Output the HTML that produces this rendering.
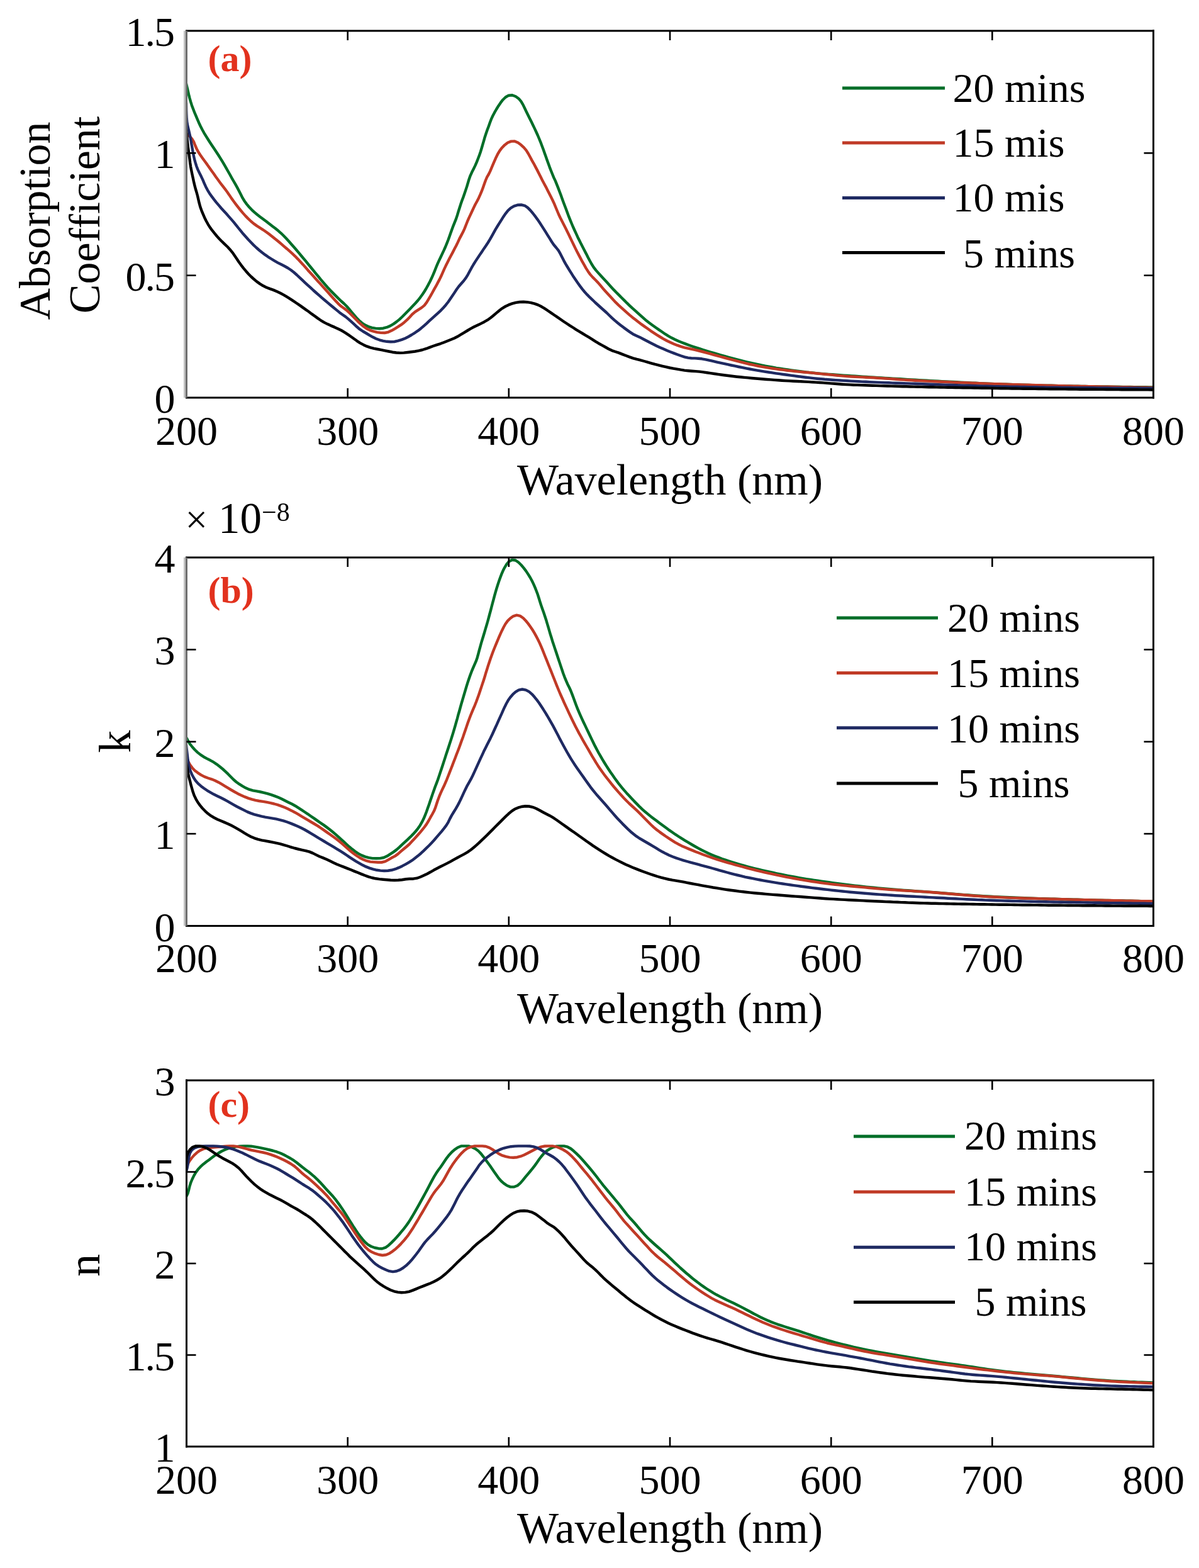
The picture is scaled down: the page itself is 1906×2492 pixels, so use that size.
<!DOCTYPE html>
<html><head><meta charset="utf-8"><title>Optical constants</title>
<style>html,body{margin:0;padding:0;background:#fff}svg{display:block}</style></head>
<body><svg xmlns="http://www.w3.org/2000/svg" width="1906" height="2492" viewBox="0 0 1906 2492">
<rect width="1906" height="2492" fill="#fff"/>
<clipPath id="ca"><rect x="296.5" y="49.0" width="1537.0" height="583.0"/></clipPath>
<g clip-path="url(#ca)" fill="none" stroke-width="4.4" stroke-linejoin="round" stroke-linecap="round">
<path d="M296.0,132.6 L297.3,138.5 L298.7,144.3 L300.0,150.1 L301.5,156.0 L303.1,161.7 L304.9,167.4 L307.0,173.1 L309.2,178.7 L311.5,184.2 L313.8,189.7 L316.2,195.2 L318.8,200.7 L321.5,206.0 L324.4,211.3 L327.5,216.4 L330.7,221.5 L333.9,226.5 L337.2,231.5 L340.6,236.5 L343.9,241.5 L347.2,246.5 L350.4,251.6 L353.5,256.7 L356.6,261.9 L359.6,267.1 L362.5,272.3 L365.5,277.5 L368.4,282.8 L371.4,288.0 L374.4,293.2 L377.3,298.4 L380.1,303.7 L382.8,309.1 L385.5,314.4 L388.6,319.5 L392.1,324.4 L396.0,329.0 L400.1,333.3 L404.5,337.4 L409.1,341.3 L413.9,344.9 L418.7,348.5 L423.4,352.1 L428.2,355.8 L433.0,359.4 L437.7,363.0 L442.4,366.8 L446.9,370.8 L451.2,375.0 L455.3,379.3 L459.4,383.8 L463.3,388.3 L467.3,392.8 L471.2,397.3 L475.1,401.9 L478.9,406.5 L482.8,411.1 L486.6,415.7 L490.4,420.4 L494.2,425.0 L498.0,429.6 L501.8,434.3 L505.6,438.9 L509.4,443.6 L513.3,448.2 L517.2,452.7 L521.2,457.2 L525.3,461.6 L529.5,465.9 L533.7,470.1 L538.0,474.4 L542.3,478.5 L546.8,482.5 L551.1,486.7 L555.0,491.2 L558.8,495.8 L562.7,500.4 L566.6,504.9 L570.8,509.3 L575.3,513.2 L580.2,516.5 L585.6,519.1 L591.3,520.8 L597.2,521.9 L603.2,522.3 L609.1,521.7 L614.9,520.2 L620.4,517.9 L625.5,514.9 L630.4,511.4 L635.0,507.6 L639.4,503.5 L643.6,499.3 L647.8,495.0 L652.0,490.7 L656.2,486.3 L660.3,482.0 L664.3,477.5 L668.0,472.8 L671.5,468.0 L674.8,463.0 L677.9,457.8 L680.8,452.6 L683.6,447.2 L686.2,441.8 L688.6,436.4 L690.9,430.8 L693.1,425.2 L695.4,419.7 L697.9,414.2 L700.5,408.8 L703.0,403.4 L705.6,397.9 L708.0,392.5 L710.3,386.9 L712.5,381.3 L714.5,375.7 L716.5,370.0 L718.5,364.4 L720.6,358.8 L722.9,353.2 L725.1,347.6 L727.0,341.9 L728.7,336.2 L730.5,330.5 L732.3,324.8 L734.3,319.1 L736.4,313.5 L738.4,307.8 L740.3,302.1 L742.2,296.4 L743.9,290.7 L745.6,284.9 L747.6,279.3 L750.1,273.8 L752.8,268.4 L755.4,263.1 L757.8,257.6 L760.0,252.0 L762.1,246.4 L764.1,240.7 L765.8,235.0 L767.5,229.2 L769.2,223.4 L770.8,217.7 L772.7,212.0 L774.7,206.3 L776.8,200.7 L778.8,195.0 L780.9,189.4 L783.4,184.0 L786.2,178.7 L789.2,173.5 L792.3,168.4 L795.7,163.4 L799.3,158.7 L803.6,154.5 L808.6,151.7 L814.3,151.3 L819.7,153.3 L824.5,156.7 L828.3,161.2 L831.4,166.4 L834.0,171.8 L836.6,177.2 L839.2,182.5 L841.9,187.9 L844.6,193.3 L847.2,198.7 L849.8,204.1 L852.3,209.5 L854.8,215.0 L857.1,220.5 L859.4,226.1 L861.5,231.7 L863.6,237.3 L865.6,243.0 L867.6,248.6 L869.6,254.3 L871.7,259.9 L873.7,265.6 L875.9,271.2 L878.1,276.7 L880.4,282.3 L882.9,287.7 L885.2,293.3 L887.4,298.9 L889.5,304.5 L891.6,310.1 L893.6,315.7 L895.7,321.4 L897.8,327.0 L899.9,332.6 L902.0,338.2 L904.1,343.9 L906.3,349.4 L908.6,355.0 L910.9,360.5 L913.4,366.0 L915.9,371.4 L918.4,376.9 L921.1,382.3 L923.7,387.6 L926.5,393.0 L929.2,398.3 L932.0,403.6 L934.7,409.0 L937.5,414.3 L940.4,419.5 L943.6,424.6 L947.2,429.4 L951.2,433.9 L955.2,438.3 L959.3,442.7 L963.3,447.1 L967.4,451.6 L971.4,456.0 L975.5,460.4 L979.7,464.7 L983.9,468.9 L988.2,473.2 L992.4,477.4 L996.7,481.7 L1001.0,485.8 L1005.4,489.9 L1009.9,493.9 L1014.3,497.9 L1018.8,501.9 L1023.3,505.9 L1027.8,509.8 L1032.6,513.5 L1037.4,517.0 L1042.3,520.5 L1047.2,523.9 L1052.2,527.3 L1057.1,530.7 L1062.2,533.9 L1067.4,536.8 L1072.8,539.5 L1078.2,542.0 L1083.8,544.2 L1089.4,546.4 L1095.0,548.5 L1100.6,550.5 L1106.3,552.4 L1112.0,554.2 L1117.8,556.0 L1123.5,557.8 L1129.2,559.5 L1135.0,561.2 L1140.7,562.9 L1146.5,564.6 L1152.3,566.2 L1158.1,567.8 L1163.9,569.4 L1169.7,570.9 L1175.5,572.4 L1181.3,573.9 L1187.1,575.3 L1193.0,576.7 L1198.8,578.0 L1204.7,579.2 L1210.6,580.5 L1216.4,581.6 L1222.3,582.7 L1228.2,583.7 L1234.2,584.8 L1240.1,585.7 L1246.0,586.6 L1251.9,587.5 L1257.9,588.4 L1263.8,589.2 L1269.8,590.0 L1275.7,590.7 L1281.7,591.5 L1287.6,592.1 L1293.6,592.8 L1299.6,593.4 L1305.6,593.9 L1311.5,594.4 L1317.5,594.9 L1323.5,595.3 L1329.5,595.8 L1335.5,596.2 L1341.4,596.6 L1347.4,597.0 L1353.4,597.4 L1359.4,597.8 L1365.4,598.2 L1371.4,598.6 L1377.4,599.0 L1383.4,599.4 L1389.3,599.8 L1395.3,600.1 L1401.3,600.5 L1407.3,600.9 L1413.3,601.3 L1419.3,601.6 L1425.3,602.0 L1431.3,602.3 L1437.3,602.7 L1443.2,603.1 L1449.2,603.4 L1455.2,603.7 L1461.2,604.1 L1467.2,604.4 L1473.2,604.7 L1479.2,605.1 L1485.2,605.4 L1491.2,605.7 L1497.2,606.1 L1503.2,606.4 L1509.1,606.7 L1515.1,607.0 L1521.1,607.3 L1527.1,607.7 L1533.1,608.0 L1539.1,608.3 L1545.1,608.6 L1551.1,608.8 L1557.1,609.1 L1563.1,609.4 L1569.1,609.7 L1575.1,609.9 L1581.1,610.1 L1587.1,610.4 L1593.1,610.6 L1599.1,610.8 L1605.0,611.0 L1611.0,611.2 L1617.0,611.4 L1623.0,611.6 L1629.0,611.7 L1635.0,611.9 L1641.0,612.1 L1647.0,612.2 L1653.0,612.4 L1659.0,612.6 L1665.0,612.7 L1671.0,612.8 L1677.0,613.0 L1683.0,613.1 L1689.0,613.3 L1695.0,613.4 L1701.0,613.5 L1707.0,613.6 L1713.0,613.7 L1719.0,613.9 L1725.0,614.0 L1731.0,614.1 L1737.0,614.2 L1743.0,614.3 L1749.0,614.4 L1755.0,614.4 L1761.0,614.5 L1767.0,614.6 L1773.0,614.7 L1779.0,614.8 L1785.0,614.9 L1791.0,614.9 L1797.0,615.0 L1803.0,615.1 L1809.0,615.2 L1815.0,615.3 L1821.0,615.3 L1827.0,615.4 L1833.0,615.5" stroke="#006e28"/>
<path d="M296.5,212.0 L300.9,216.1 L305.0,220.4 L308.0,225.4 L310.2,231.0 L312.6,236.5 L315.4,241.8 L318.7,246.8 L322.2,251.7 L325.7,256.5 L329.3,261.4 L332.7,266.3 L336.2,271.2 L339.7,276.0 L343.1,281.0 L346.6,285.8 L350.2,290.7 L353.8,295.4 L357.5,300.2 L361.1,305.0 L364.5,309.9 L367.8,314.9 L371.3,319.8 L374.9,324.6 L378.6,329.4 L382.3,334.0 L386.2,338.6 L390.2,343.1 L394.4,347.4 L398.7,351.5 L403.3,355.4 L408.2,358.9 L413.3,362.1 L418.3,365.3 L423.3,368.7 L428.1,372.3 L432.8,376.0 L437.5,379.7 L442.2,383.5 L446.8,387.4 L451.3,391.3 L455.9,395.2 L460.4,399.2 L464.8,403.2 L469.2,407.3 L473.4,411.6 L477.5,416.0 L481.6,420.4 L485.6,424.9 L489.5,429.4 L493.5,433.8 L497.6,438.3 L501.6,442.7 L505.6,447.2 L509.7,451.6 L513.7,456.1 L517.7,460.5 L521.8,465.0 L525.7,469.5 L529.7,473.9 L533.8,478.4 L537.9,482.8 L542.3,486.8 L547.2,490.2 L551.9,493.8 L556.3,498.0 L560.5,502.2 L564.7,506.5 L568.9,510.8 L573.3,514.9 L577.9,518.8 L582.8,522.2 L588.1,524.8 L593.8,526.7 L599.6,528.1 L605.6,528.9 L611.5,529.0 L617.3,527.8 L622.7,525.3 L627.9,522.3 L633.0,519.2 L638.0,515.9 L642.8,512.2 L647.2,508.2 L651.3,503.9 L655.3,499.5 L659.9,495.6 L664.9,492.3 L670.0,489.1 L674.6,485.4 L678.2,480.7 L681.2,475.6 L684.3,470.4 L687.2,465.2 L690.1,459.9 L693.1,454.7 L695.9,449.4 L698.7,444.1 L701.3,438.7 L703.8,433.2 L706.2,427.7 L708.7,422.3 L711.4,416.9 L714.1,411.6 L716.9,406.3 L719.8,400.9 L722.5,395.6 L725.3,390.3 L727.9,384.9 L730.4,379.4 L733.2,374.1 L736.0,368.8 L738.5,363.4 L740.7,357.8 L742.9,352.2 L745.3,346.7 L747.8,341.3 L750.4,335.8 L752.9,330.4 L755.5,325.0 L758.4,319.7 L761.1,314.4 L763.6,308.9 L765.9,303.4 L768.0,297.7 L770.0,292.1 L772.0,286.5 L774.2,281.3 L776.8,277.0 L779.3,271.9 L781.6,266.4 L783.9,260.9 L786.3,255.4 L788.7,249.9 L791.4,244.5 L794.5,239.4 L798.1,234.7 L802.3,230.4 L807.1,226.8 L812.5,224.6 L818.2,224.5 L823.5,226.8 L828.3,230.3 L832.7,234.4 L836.5,238.9 L839.7,244.0 L842.6,249.3 L845.4,254.6 L848.4,259.8 L851.2,265.1 L854.0,270.4 L856.7,275.7 L859.4,281.1 L862.1,286.5 L864.9,291.8 L867.8,297.1 L870.5,302.4 L873.2,307.8 L875.9,313.1 L878.6,318.5 L881.1,323.9 L883.4,329.5 L885.7,335.0 L888.0,340.5 L890.6,346.0 L893.3,351.3 L896.1,356.7 L898.8,362.0 L901.5,367.4 L904.1,372.8 L906.7,378.2 L909.3,383.6 L911.9,389.0 L914.5,394.4 L917.2,399.8 L920.0,405.1 L922.8,410.4 L925.6,415.7 L928.6,420.9 L931.5,426.1 L934.7,431.2 L938.2,436.1 L942.2,440.6 L946.4,444.8 L950.6,449.1 L954.5,453.7 L958.4,458.3 L962.3,462.7 L966.4,467.2 L970.4,471.6 L974.5,476.1 L978.6,480.4 L982.9,484.6 L987.3,488.6 L991.8,492.6 L996.3,496.7 L1000.8,500.6 L1005.4,504.4 L1010.1,508.1 L1014.9,511.8 L1019.7,515.4 L1024.6,518.9 L1029.5,522.3 L1034.4,525.8 L1039.4,529.1 L1044.4,532.4 L1049.5,535.5 L1054.7,538.6 L1060.0,541.5 L1065.3,544.1 L1070.8,546.5 L1076.4,548.7 L1082.1,550.6 L1087.8,552.3 L1093.6,553.6 L1099.5,554.9 L1105.4,556.1 L1111.2,557.5 L1117.0,559.0 L1122.8,560.6 L1128.6,562.2 L1134.4,563.8 L1140.2,565.4 L1145.9,567.0 L1151.7,568.5 L1157.5,570.1 L1163.3,571.6 L1169.1,573.2 L1174.9,574.7 L1180.8,576.2 L1186.6,577.6 L1192.4,579.0 L1198.3,580.2 L1204.2,581.5 L1210.1,582.6 L1216.0,583.6 L1221.9,584.6 L1227.8,585.5 L1233.8,586.4 L1239.7,587.2 L1245.7,587.9 L1251.6,588.7 L1257.6,589.3 L1263.6,590.0 L1269.5,590.6 L1275.5,591.2 L1281.5,591.7 L1287.5,592.3 L1293.4,592.9 L1299.4,593.5 L1305.4,594.1 L1311.3,594.7 L1317.3,595.3 L1323.3,595.9 L1329.3,596.5 L1335.2,597.1 L1341.2,597.6 L1347.2,598.1 L1353.2,598.5 L1359.2,598.8 L1365.2,599.1 L1371.2,599.4 L1377.2,599.7 L1383.2,600.0 L1389.1,600.3 L1395.1,600.7 L1401.1,601.1 L1407.1,601.5 L1413.1,601.9 L1419.1,602.3 L1425.1,602.8 L1431.1,603.2 L1437.1,603.6 L1443.0,604.0 L1449.0,604.3 L1455.0,604.7 L1461.0,605.0 L1467.0,605.3 L1473.0,605.6 L1479.0,605.9 L1485.0,606.2 L1491.0,606.5 L1497.0,606.8 L1503.0,607.0 L1509.0,607.3 L1515.0,607.6 L1521.0,607.8 L1527.0,608.1 L1533.0,608.3 L1539.0,608.5 L1545.0,608.8 L1551.0,609.0 L1557.0,609.3 L1563.0,609.5 L1569.0,609.7 L1575.0,609.9 L1581.0,610.1 L1587.0,610.3 L1593.0,610.5 L1599.0,610.7 L1605.0,610.9 L1611.0,611.1 L1617.0,611.3 L1623.0,611.5 L1629.0,611.7 L1635.0,611.8 L1641.0,612.0 L1647.0,612.2 L1653.0,612.3 L1659.0,612.5 L1665.0,612.6 L1671.0,612.8 L1677.0,612.9 L1683.0,613.1 L1689.0,613.2 L1695.0,613.4 L1701.0,613.5 L1707.0,613.6 L1713.0,613.8 L1719.0,613.9 L1725.0,614.0 L1731.0,614.2 L1737.0,614.3 L1743.0,614.4 L1749.0,614.5 L1755.0,614.6 L1761.0,614.7 L1767.0,614.8 L1773.0,614.9 L1779.0,615.1 L1785.0,615.2 L1791.0,615.3 L1797.0,615.4 L1803.0,615.5 L1809.0,615.6 L1815.0,615.7 L1821.0,615.8 L1827.0,615.9 L1833.0,616.0" stroke="#c03a26"/>
<path d="M296.0,163.6 L296.1,169.6 L296.2,175.6 L296.4,181.6 L296.7,187.6 L297.2,193.6 L298.2,199.5 L299.6,205.3 L301.0,211.2 L302.3,217.0 L303.4,222.9 L304.4,228.9 L305.5,234.8 L306.5,240.7 L307.7,246.6 L308.9,252.4 L310.5,258.2 L312.3,264.0 L314.5,269.6 L317.1,275.0 L319.8,280.3 L322.3,285.7 L324.7,291.3 L327.1,296.7 L329.9,302.1 L333.0,307.2 L336.5,312.1 L340.1,316.9 L343.8,321.6 L347.7,326.2 L351.6,330.7 L355.7,335.2 L359.7,339.6 L363.7,344.1 L367.7,348.6 L371.6,353.1 L375.4,357.8 L379.1,362.5 L382.9,367.2 L386.7,371.8 L390.7,376.3 L394.7,380.8 L398.8,385.1 L403.0,389.4 L407.4,393.5 L411.9,397.5 L416.6,401.3 L421.4,404.9 L426.3,408.3 L431.4,411.5 L436.5,414.7 L441.7,417.6 L447.1,420.3 L452.4,423.0 L457.7,426.0 L462.6,429.3 L467.4,433.0 L471.9,437.0 L476.3,441.1 L480.6,445.2 L485.0,449.3 L489.4,453.4 L493.9,457.4 L498.3,461.5 L502.8,465.5 L507.3,469.4 L511.8,473.4 L516.4,477.3 L521.0,481.1 L525.6,485.0 L530.2,488.8 L534.9,492.6 L539.5,496.4 L544.4,500.0 L549.3,503.4 L553.9,507.1 L558.4,511.2 L562.8,515.2 L567.2,519.3 L571.8,523.2 L576.8,526.5 L582.0,529.5 L587.1,532.6 L592.3,535.6 L597.7,538.2 L603.3,540.3 L609.1,541.8 L615.0,542.8 L621.0,543.3 L627.0,543.0 L632.8,541.7 L638.5,539.9 L644.1,537.7 L649.5,535.0 L654.6,532.0 L659.7,528.8 L664.7,525.4 L669.4,521.7 L673.9,517.8 L678.4,513.8 L682.8,509.7 L687.3,505.7 L691.7,501.7 L696.2,497.7 L700.6,493.6 L704.7,489.2 L708.7,484.7 L712.4,480.0 L715.8,475.1 L719.2,470.1 L722.5,465.1 L725.8,460.0 L729.3,455.2 L733.2,450.7 L737.2,446.2 L740.8,441.4 L743.9,436.3 L746.7,431.0 L749.6,425.7 L752.6,420.5 L755.8,415.4 L759.1,410.4 L762.4,405.4 L765.8,400.4 L769.1,395.4 L772.5,390.5 L775.8,385.5 L778.9,380.4 L781.9,375.1 L784.8,369.9 L787.7,364.6 L790.8,359.5 L794.0,354.4 L797.2,349.3 L800.4,344.2 L803.8,339.3 L807.5,334.6 L811.9,330.6 L817.0,327.6 L822.7,325.8 L828.6,325.5 L834.2,326.8 L839.0,330.1 L843.2,334.4 L847.1,339.0 L850.7,343.7 L854.3,348.6 L857.7,353.5 L861.0,358.6 L864.2,363.6 L867.4,368.7 L870.6,373.8 L873.8,378.9 L876.9,384.0 L880.3,389.0 L884.1,393.5 L887.8,398.2 L890.8,403.4 L893.5,408.8 L896.2,414.1 L899.1,419.4 L902.2,424.5 L905.3,429.6 L908.5,434.7 L911.7,439.8 L915.1,444.8 L918.5,449.7 L922.0,454.6 L925.6,459.4 L929.4,464.0 L933.5,468.4 L937.7,472.7 L942.1,476.8 L946.4,481.0 L950.9,485.0 L955.3,489.0 L959.8,493.0 L964.3,497.0 L968.6,501.2 L972.9,505.4 L977.4,509.4 L982.0,513.2 L986.7,516.9 L991.5,520.6 L996.3,524.1 L1001.2,527.6 L1006.2,530.9 L1011.5,533.5 L1017.0,535.9 L1022.3,538.7 L1027.6,541.5 L1032.9,544.3 L1038.3,547.0 L1043.7,549.7 L1049.1,552.2 L1054.6,554.6 L1060.1,557.0 L1065.7,559.2 L1071.3,561.4 L1076.9,563.5 L1082.6,565.5 L1088.2,567.3 L1093.7,568.6 L1099.1,569.2 L1104.5,569.4 L1110.0,569.7 L1115.7,570.3 L1121.5,571.3 L1127.3,572.6 L1133.1,573.9 L1139.0,575.3 L1144.8,576.6 L1150.7,577.9 L1156.6,579.2 L1162.4,580.5 L1168.3,581.7 L1174.2,583.0 L1180.1,584.2 L1186.0,585.3 L1191.9,586.5 L1197.8,587.6 L1203.7,588.6 L1209.6,589.6 L1215.5,590.6 L1221.5,591.5 L1227.4,592.4 L1233.3,593.3 L1239.3,594.1 L1245.2,595.0 L1251.2,595.8 L1257.1,596.6 L1263.1,597.4 L1269.0,598.2 L1275.0,599.0 L1280.9,599.7 L1286.9,600.4 L1292.9,601.1 L1298.9,601.7 L1304.8,602.2 L1310.8,602.8 L1316.8,603.2 L1322.8,603.7 L1328.8,604.1 L1334.8,604.5 L1340.8,604.9 L1346.8,605.2 L1352.8,605.6 L1358.7,605.9 L1364.7,606.3 L1370.7,606.6 L1376.7,606.8 L1382.7,607.1 L1388.7,607.4 L1394.7,607.6 L1400.7,607.9 L1406.7,608.1 L1412.7,608.3 L1418.7,608.6 L1424.7,608.8 L1430.7,609.0 L1436.7,609.2 L1442.7,609.4 L1448.7,609.6 L1454.8,609.8 L1460.8,610.0 L1466.8,610.2 L1472.8,610.5 L1478.8,610.7 L1484.8,610.9 L1490.8,611.1 L1496.8,611.4 L1502.8,611.6 L1508.8,611.8 L1514.8,612.0 L1520.8,612.2 L1526.8,612.4 L1532.8,612.6 L1538.8,612.8 L1544.8,613.0 L1550.8,613.2 L1556.8,613.4 L1562.8,613.6 L1568.8,613.8 L1574.8,613.9 L1580.8,614.1 L1586.8,614.2 L1592.8,614.4 L1598.8,614.5 L1604.8,614.6 L1610.8,614.7 L1616.8,614.8 L1622.8,614.9 L1628.8,615.0 L1634.8,615.1 L1640.8,615.2 L1646.8,615.3 L1652.8,615.4 L1658.8,615.5 L1664.9,615.6 L1670.9,615.6 L1676.9,615.7 L1682.9,615.8 L1688.9,615.9 L1694.9,615.9 L1700.9,616.0 L1706.9,616.1 L1712.9,616.1 L1718.9,616.2 L1724.9,616.2 L1730.9,616.3 L1736.9,616.3 L1742.9,616.4 L1748.9,616.4 L1754.9,616.5 L1760.9,616.5 L1766.9,616.6 L1772.9,616.6 L1779.0,616.7 L1785.0,616.7 L1791.0,616.7 L1797.0,616.8 L1803.0,616.8 L1809.0,616.8 L1815.0,616.9 L1821.0,616.9 L1827.0,617.0 L1833.0,617.0" stroke="#1f2a62"/>
<path d="M296.0,205.2 L296.6,211.2 L297.1,217.2 L297.7,223.1 L298.3,229.1 L299.1,235.1 L299.9,241.0 L300.7,246.9 L301.5,252.9 L302.2,258.8 L303.1,264.8 L304.2,270.7 L305.4,276.6 L306.7,282.4 L307.9,288.3 L309.3,294.2 L310.8,300.0 L312.5,305.7 L314.1,311.5 L315.4,317.3 L316.8,323.2 L318.4,329.0 L320.4,334.6 L322.7,340.2 L325.1,345.7 L327.7,351.0 L330.6,356.3 L333.8,361.4 L337.3,366.2 L341.1,370.9 L344.9,375.5 L349.0,380.0 L353.2,384.2 L357.5,388.3 L361.9,392.5 L365.9,396.9 L369.7,401.6 L373.1,406.5 L376.5,411.5 L379.8,416.5 L383.3,421.3 L387.0,426.1 L390.8,430.7 L394.8,435.2 L399.0,439.5 L403.4,443.5 L408.0,447.4 L412.9,450.9 L418.0,454.1 L423.3,456.7 L428.9,458.9 L434.6,460.9 L440.1,463.2 L445.5,465.7 L450.8,468.6 L455.9,471.7 L461.0,474.9 L466.0,478.2 L471.0,481.5 L476.0,484.9 L480.9,488.4 L485.8,491.9 L490.7,495.3 L495.5,498.9 L500.4,502.4 L505.2,505.9 L510.2,509.3 L515.3,512.4 L520.7,515.1 L526.1,517.6 L531.7,519.9 L537.2,522.4 L542.5,525.0 L547.7,528.1 L552.7,531.4 L557.6,534.8 L562.5,538.3 L567.4,541.8 L572.4,545.1 L577.7,547.9 L583.1,550.4 L588.8,552.3 L594.6,553.8 L600.5,555.0 L606.4,556.1 L612.3,557.3 L618.1,558.5 L624.0,559.7 L630.0,560.5 L636.0,560.9 L641.9,560.6 L647.9,560.0 L653.9,559.3 L659.8,558.5 L665.7,557.4 L671.5,556.0 L677.3,554.2 L682.9,552.1 L688.5,550.0 L694.2,548.1 L699.9,546.3 L705.5,544.2 L711.1,542.0 L716.7,539.8 L722.2,537.5 L727.5,534.8 L732.7,531.7 L737.8,528.6 L742.9,525.5 L748.1,522.4 L753.4,519.5 L758.8,516.9 L764.2,514.4 L769.6,511.7 L774.8,508.7 L779.7,505.2 L784.3,501.5 L788.9,497.6 L793.5,493.7 L798.3,490.1 L803.4,487.0 L808.8,484.4 L814.4,482.4 L820.2,480.9 L826.1,480.0 L832.1,479.8 L838.1,480.2 L844.0,481.1 L849.8,482.6 L855.4,484.6 L860.8,487.3 L865.9,490.4 L870.9,493.8 L875.9,497.1 L880.8,500.5 L885.8,503.9 L890.7,507.3 L895.7,510.7 L900.7,514.0 L905.7,517.3 L910.8,520.5 L915.8,523.8 L920.9,526.9 L926.1,530.0 L931.2,533.1 L936.4,536.2 L941.5,539.3 L946.5,542.6 L951.6,545.7 L956.9,548.6 L962.1,551.5 L967.3,554.5 L972.7,557.1 L978.3,559.0 L984.0,560.9 L989.6,563.1 L995.2,565.3 L1000.8,567.4 L1006.5,569.3 L1012.2,570.9 L1018.1,572.4 L1023.9,574.0 L1029.6,575.6 L1035.4,577.3 L1041.2,578.9 L1047.0,580.3 L1052.8,581.8 L1058.6,583.2 L1064.5,584.5 L1070.4,585.6 L1076.3,586.6 L1082.2,587.7 L1088.1,588.6 L1094.0,589.2 L1100.0,589.7 L1105.9,590.1 L1111.9,590.6 L1117.8,591.4 L1123.7,592.2 L1129.7,593.1 L1135.6,594.0 L1141.6,594.9 L1147.5,595.7 L1153.4,596.5 L1159.4,597.3 L1165.4,598.0 L1171.3,598.7 L1177.3,599.3 L1183.3,599.9 L1189.2,600.4 L1195.2,601.0 L1201.2,601.5 L1207.2,602.0 L1213.2,602.5 L1219.1,603.0 L1225.1,603.4 L1231.1,603.9 L1237.1,604.3 L1243.1,604.7 L1249.1,605.1 L1255.1,605.4 L1261.1,605.7 L1267.1,606.0 L1273.1,606.3 L1279.0,606.6 L1285.0,606.9 L1291.0,607.3 L1297.0,607.6 L1303.0,608.0 L1309.0,608.4 L1315.0,608.9 L1321.0,609.4 L1327.0,609.8 L1332.9,610.3 L1338.9,610.7 L1344.9,611.1 L1350.9,611.4 L1356.9,611.7 L1362.9,611.9 L1368.9,612.1 L1374.9,612.3 L1380.9,612.5 L1386.9,612.7 L1392.9,612.9 L1398.9,613.1 L1404.9,613.3 L1410.9,613.5 L1416.9,613.6 L1422.9,613.8 L1428.9,614.0 L1434.9,614.2 L1440.9,614.3 L1446.9,614.5 L1452.9,614.6 L1458.9,614.8 L1464.9,614.9 L1470.9,615.0 L1476.9,615.2 L1482.9,615.3 L1488.9,615.4 L1494.9,615.5 L1500.9,615.6 L1506.9,615.8 L1512.9,615.9 L1518.9,616.0 L1524.9,616.1 L1530.9,616.2 L1536.9,616.3 L1542.9,616.4 L1548.9,616.5 L1554.9,616.6 L1560.9,616.7 L1566.9,616.8 L1572.9,616.9 L1578.9,617.0 L1584.9,617.1 L1590.9,617.2 L1596.9,617.3 L1602.9,617.4 L1608.9,617.5 L1614.9,617.5 L1620.9,617.6 L1626.9,617.7 L1632.9,617.8 L1638.9,617.8 L1644.9,617.9 L1650.9,618.0 L1656.9,618.0 L1662.9,618.1 L1668.9,618.2 L1674.9,618.2 L1680.9,618.3 L1686.9,618.4 L1693.0,618.4 L1699.0,618.5 L1705.0,618.5 L1711.0,618.6 L1717.0,618.7 L1723.0,618.7 L1729.0,618.8 L1735.0,618.8 L1741.0,618.8 L1747.0,618.9 L1753.0,618.9 L1759.0,619.0 L1765.0,619.0 L1771.0,619.1 L1777.0,619.1 L1783.0,619.2 L1789.0,619.2 L1795.0,619.2 L1801.0,619.3 L1807.0,619.3 L1813.0,619.4 L1819.0,619.4 L1825.0,619.4 L1831.0,619.5 L1833.0,619.5" stroke="#000000"/>
</g>
<g fill="#000">
<rect x="295.0" y="47.5" width="1540.0" height="3"/>
<rect x="295.0" y="630.5" width="1540.0" height="3"/>
<rect x="1832.0" y="47.5" width="3" height="586.0"/>
</g>
<rect x="292" y="49.0" width="3" height="583.0" fill="#c0c0c0"/>
<rect x="295" y="49.0" width="3" height="583.0" fill="#6e6e6e"/>
<g stroke="#000" stroke-width="2.6">
<line x1="552.7" y1="632.0" x2="552.7" y2="617.0"/>
<line x1="552.7" y1="49.0" x2="552.7" y2="64.0"/>
<line x1="808.8" y1="632.0" x2="808.8" y2="617.0"/>
<line x1="808.8" y1="49.0" x2="808.8" y2="64.0"/>
<line x1="1065.0" y1="632.0" x2="1065.0" y2="617.0"/>
<line x1="1065.0" y1="49.0" x2="1065.0" y2="64.0"/>
<line x1="1321.2" y1="632.0" x2="1321.2" y2="617.0"/>
<line x1="1321.2" y1="49.0" x2="1321.2" y2="64.0"/>
<line x1="1577.3" y1="632.0" x2="1577.3" y2="617.0"/>
<line x1="1577.3" y1="49.0" x2="1577.3" y2="64.0"/>
<line x1="296.5" y1="243.3" x2="311.5" y2="243.3"/>
<line x1="1833.5" y1="243.3" x2="1818.5" y2="243.3"/>
<line x1="296.5" y1="437.7" x2="311.5" y2="437.7"/>
<line x1="1833.5" y1="437.7" x2="1818.5" y2="437.7"/>
</g>
<g style="font-family:'Liberation Serif','Times New Roman',serif;font-size:66px" fill="#000">
<text x="296.5" y="707.0" text-anchor="middle">200</text>
<text x="552.7" y="707.0" text-anchor="middle">300</text>
<text x="808.8" y="707.0" text-anchor="middle">400</text>
<text x="1065.0" y="707.0" text-anchor="middle">500</text>
<text x="1321.2" y="707.0" text-anchor="middle">600</text>
<text x="1577.3" y="707.0" text-anchor="middle">700</text>
<text x="1833.5" y="707.0" text-anchor="middle">800</text>
<text x="276.0" y="73.0" text-anchor="end" letter-spacing="-2">1.5</text>
<text x="278.5" y="267.3" text-anchor="end">1</text>
<text x="276.0" y="461.7" text-anchor="end" letter-spacing="-2">0.5</text>
<text x="278.5" y="656.0" text-anchor="end">0</text>
</g>
<text x="1065" y="786.0" text-anchor="middle" style="font-family:'Liberation Serif','Times New Roman',serif;font-size:70px">Wavelength (nm)</text>
<text transform="translate(79,351) rotate(-90)" text-anchor="middle" style="font-family:'Liberation Serif','Times New Roman',serif;font-size:70px">Absorption</text><text transform="translate(158,341.5) rotate(-90)" text-anchor="middle" style="font-family:'Liberation Serif','Times New Roman',serif;font-size:70px">Coefficient</text>
<text x="330.5" y="112.5" style="font-family:'Liberation Serif','Times New Roman',serif;font-size:60px;font-weight:bold" fill="#e2321e">(a)</text>
<line x1="1339.0" y1="140.0" x2="1502.0" y2="140.0" stroke="#006e28" stroke-width="5"/>
<text x="1514.5" y="161.7" style="font-family:'Liberation Serif','Times New Roman',serif;font-size:66px" xml:space="preserve">20 mins</text>
<line x1="1339.0" y1="227.0" x2="1502.0" y2="227.0" stroke="#c03a26" stroke-width="5"/>
<text x="1514.5" y="248.8" style="font-family:'Liberation Serif','Times New Roman',serif;font-size:66px" xml:space="preserve">15 mis</text>
<line x1="1339.0" y1="314.5" x2="1502.0" y2="314.5" stroke="#1f2a62" stroke-width="5"/>
<text x="1514.5" y="336.4" style="font-family:'Liberation Serif','Times New Roman',serif;font-size:66px" xml:space="preserve">10 mis</text>
<line x1="1339.0" y1="401.6" x2="1502.0" y2="401.6" stroke="#000000" stroke-width="5"/>
<text x="1514.5" y="425.4" style="font-family:'Liberation Serif','Times New Roman',serif;font-size:66px" xml:space="preserve"> 5 mins</text>
<text x="294.5" y="847" style="font-family:'Liberation Serif','Times New Roman',serif;font-size:63px">×</text><text x="347" y="847" style="font-family:'Liberation Serif','Times New Roman',serif;font-size:69px">10</text><text x="416" y="828" style="font-family:'Liberation Serif','Times New Roman',serif;font-size:42px">−8</text>
<clipPath id="cb"><rect x="296.5" y="886.0" width="1537.0" height="585.5"/></clipPath>
<g clip-path="url(#cb)" fill="none" stroke-width="4.4" stroke-linejoin="round" stroke-linecap="round">
<path d="M296.0,1171.9 L298.8,1177.2 L301.9,1182.3 L305.6,1187.0 L309.6,1191.5 L313.9,1195.6 L318.6,1199.4 L323.6,1202.7 L328.9,1205.6 L334.2,1208.3 L339.4,1211.2 L344.4,1214.6 L349.2,1218.2 L353.8,1222.0 L358.3,1226.1 L362.6,1230.2 L366.8,1234.5 L371.0,1238.8 L375.6,1242.7 L380.4,1246.2 L385.5,1249.4 L390.7,1252.3 L396.2,1254.7 L402.0,1256.3 L407.9,1257.4 L413.8,1258.5 L419.6,1259.8 L425.5,1261.3 L431.2,1263.1 L436.8,1265.1 L442.4,1267.3 L447.9,1269.8 L453.2,1272.5 L458.6,1275.2 L464.0,1277.8 L469.3,1280.7 L474.3,1283.9 L479.3,1287.2 L484.4,1290.5 L489.4,1293.8 L494.3,1297.2 L499.3,1300.6 L504.2,1304.1 L509.1,1307.5 L514.1,1310.9 L518.9,1314.4 L523.7,1318.0 L528.4,1321.8 L533.0,1325.6 L537.5,1329.6 L541.9,1333.7 L546.4,1337.7 L550.8,1341.8 L555.2,1345.8 L559.9,1349.6 L564.6,1353.2 L569.6,1356.6 L574.9,1359.4 L580.5,1361.6 L586.2,1363.2 L592.1,1364.1 L598.1,1364.3 L604.1,1364.1 L610.0,1363.0 L615.4,1360.6 L620.4,1357.4 L625.4,1354.1 L630.2,1350.6 L634.7,1346.6 L639.1,1342.4 L643.5,1338.4 L647.9,1334.4 L652.3,1330.2 L656.5,1325.9 L660.5,1321.5 L664.3,1316.8 L667.7,1311.9 L670.7,1306.7 L673.4,1301.3 L675.7,1295.8 L677.9,1290.2 L679.9,1284.6 L681.9,1278.9 L683.8,1273.2 L685.8,1267.5 L687.7,1261.9 L689.7,1256.2 L691.7,1250.5 L693.9,1244.9 L696.0,1239.3 L697.9,1233.6 L699.8,1227.9 L701.7,1222.2 L703.6,1216.5 L705.4,1210.8 L707.3,1205.1 L709.1,1199.4 L711.0,1193.7 L712.9,1188.0 L714.7,1182.3 L716.6,1176.6 L718.4,1170.8 L720.2,1165.1 L721.9,1159.4 L723.6,1153.6 L725.2,1147.8 L726.9,1142.0 L728.4,1136.2 L730.1,1130.5 L731.7,1124.7 L733.3,1118.9 L735.0,1113.1 L736.7,1107.4 L738.4,1101.6 L740.1,1095.9 L741.8,1090.1 L743.6,1084.4 L745.5,1078.7 L747.5,1073.0 L749.6,1067.4 L751.9,1061.8 L754.3,1056.3 L756.7,1050.9 L758.7,1045.2 L760.3,1039.4 L761.8,1033.6 L763.4,1027.8 L765.0,1022.0 L766.7,1016.3 L768.5,1010.5 L770.2,1004.8 L771.9,999.0 L773.6,993.3 L775.3,987.5 L776.9,981.7 L778.4,975.9 L780.0,970.1 L781.5,964.3 L783.0,958.5 L784.6,952.7 L786.1,946.9 L787.7,941.1 L789.4,935.4 L791.2,929.6 L793.1,923.9 L795.1,918.3 L797.2,912.7 L799.6,907.1 L802.3,901.8 L805.4,896.7 L809.3,892.3 L814.2,889.7 L819.5,890.5 L824.3,893.8 L828.6,898.0 L832.5,902.6 L836.1,907.4 L839.4,912.4 L842.6,917.5 L845.5,922.7 L848.1,928.1 L850.5,933.6 L852.7,939.2 L854.8,944.8 L856.6,950.5 L858.4,956.3 L860.2,962.0 L862.2,967.7 L864.2,973.3 L866.1,979.0 L868.0,984.7 L869.7,990.5 L871.4,996.2 L873.1,1002.0 L874.8,1007.8 L876.6,1013.5 L878.3,1019.2 L880.2,1024.9 L882.1,1030.6 L884.0,1036.3 L885.9,1042.0 L887.8,1047.7 L889.7,1053.4 L891.6,1059.1 L893.5,1064.8 L895.4,1070.5 L897.5,1076.1 L899.8,1081.7 L902.2,1087.2 L904.9,1092.5 L907.4,1098.0 L909.6,1103.6 L911.7,1109.2 L913.7,1114.8 L915.8,1120.5 L918.0,1126.1 L920.3,1131.6 L922.7,1137.1 L925.2,1142.6 L927.7,1148.0 L930.3,1153.4 L932.9,1158.9 L935.5,1164.3 L938.1,1169.7 L940.7,1175.1 L943.3,1180.5 L946.0,1185.9 L948.8,1191.2 L951.6,1196.5 L954.6,1201.7 L957.6,1206.9 L960.7,1212.0 L963.9,1217.1 L967.2,1222.2 L970.5,1227.2 L973.9,1232.1 L977.3,1237.0 L980.9,1241.9 L984.5,1246.7 L988.3,1251.3 L992.1,1255.9 L996.1,1260.4 L1000.2,1264.8 L1004.3,1269.2 L1008.4,1273.6 L1012.6,1277.9 L1016.8,1282.2 L1021.2,1286.3 L1025.7,1290.3 L1030.3,1294.1 L1035.0,1297.9 L1039.7,1301.5 L1044.5,1305.1 L1049.3,1308.7 L1054.2,1312.3 L1059.0,1315.8 L1063.9,1319.4 L1068.8,1322.8 L1073.7,1326.2 L1078.8,1329.5 L1083.8,1332.7 L1088.9,1335.8 L1094.1,1338.9 L1099.3,1342.0 L1104.5,1345.0 L1109.7,1347.9 L1115.0,1350.7 L1120.4,1353.4 L1125.8,1356.0 L1131.3,1358.4 L1136.8,1360.7 L1142.4,1362.9 L1148.0,1365.0 L1153.7,1366.9 L1159.4,1368.8 L1165.1,1370.6 L1170.9,1372.4 L1176.6,1374.1 L1182.4,1375.7 L1188.2,1377.3 L1194.0,1378.8 L1199.8,1380.3 L1205.6,1381.7 L1211.5,1383.1 L1217.3,1384.4 L1223.2,1385.7 L1229.1,1387.0 L1234.9,1388.3 L1240.8,1389.5 L1246.7,1390.7 L1252.6,1391.8 L1258.5,1392.9 L1264.4,1394.0 L1270.3,1395.1 L1276.2,1396.1 L1282.2,1397.1 L1288.1,1398.0 L1294.0,1398.9 L1300.0,1399.8 L1305.9,1400.7 L1311.8,1401.5 L1317.8,1402.3 L1323.7,1403.1 L1329.7,1403.9 L1335.6,1404.7 L1341.6,1405.4 L1347.6,1406.2 L1353.5,1406.9 L1359.5,1407.6 L1365.5,1408.2 L1371.4,1408.9 L1377.4,1409.6 L1383.4,1410.2 L1389.3,1410.8 L1395.3,1411.4 L1401.3,1412.0 L1407.3,1412.5 L1413.2,1413.0 L1419.2,1413.5 L1425.2,1414.0 L1431.2,1414.5 L1437.2,1414.9 L1443.2,1415.3 L1449.2,1415.7 L1455.2,1416.2 L1461.2,1416.6 L1467.1,1417.0 L1473.1,1417.4 L1479.1,1417.9 L1485.1,1418.3 L1491.1,1418.8 L1497.1,1419.2 L1503.1,1419.7 L1509.1,1420.2 L1515.0,1420.7 L1521.0,1421.1 L1527.0,1421.6 L1533.0,1422.1 L1539.0,1422.5 L1545.0,1422.9 L1551.0,1423.4 L1557.0,1423.8 L1562.9,1424.1 L1568.9,1424.5 L1574.9,1424.8 L1580.9,1425.2 L1586.9,1425.5 L1592.9,1425.8 L1598.9,1426.0 L1604.9,1426.3 L1610.9,1426.5 L1616.9,1426.8 L1622.9,1427.0 L1628.9,1427.2 L1634.9,1427.4 L1640.9,1427.7 L1646.9,1427.9 L1652.9,1428.1 L1658.9,1428.3 L1664.9,1428.4 L1670.9,1428.6 L1676.9,1428.8 L1682.9,1429.0 L1688.9,1429.2 L1694.9,1429.3 L1700.9,1429.5 L1706.9,1429.7 L1712.9,1429.8 L1718.9,1430.0 L1724.9,1430.2 L1730.9,1430.3 L1737.0,1430.4 L1743.0,1430.6 L1749.0,1430.7 L1755.0,1430.9 L1761.0,1431.0 L1767.0,1431.1 L1773.0,1431.3 L1779.0,1431.4 L1785.0,1431.5 L1791.0,1431.6 L1797.0,1431.8 L1803.0,1431.9 L1809.0,1432.0 L1815.0,1432.1 L1821.0,1432.2 L1827.0,1432.4 L1833.0,1432.5" stroke="#006e28"/>
<path d="M296.5,1205.0 L299.2,1210.4 L302.1,1215.6 L305.7,1220.4 L309.8,1224.7 L314.6,1228.3 L319.6,1231.6 L324.9,1234.4 L330.5,1236.5 L336.2,1238.3 L341.7,1240.5 L347.1,1243.2 L352.3,1246.2 L357.5,1249.3 L362.6,1252.4 L367.7,1255.5 L372.9,1258.5 L378.2,1261.4 L383.6,1264.0 L389.1,1266.4 L394.7,1268.6 L400.4,1270.4 L406.2,1271.9 L412.1,1273.0 L418.1,1273.9 L424.0,1274.9 L429.9,1276.1 L435.7,1277.5 L441.5,1279.2 L447.1,1281.1 L452.7,1283.3 L458.2,1285.8 L463.6,1288.4 L468.9,1291.2 L474.1,1294.2 L479.3,1297.3 L484.4,1300.3 L489.6,1303.4 L494.8,1306.5 L499.9,1309.5 L505.1,1312.6 L510.1,1316.0 L515.0,1319.4 L519.9,1322.9 L524.8,1326.3 L529.7,1329.8 L534.5,1333.3 L539.3,1337.0 L543.9,1340.8 L548.4,1344.8 L552.9,1348.8 L557.4,1352.8 L562.1,1356.5 L567.0,1360.0 L572.0,1363.2 L577.4,1366.0 L582.9,1368.2 L588.7,1369.6 L594.7,1370.1 L600.7,1370.5 L606.6,1370.5 L612.3,1369.2 L617.4,1366.3 L622.6,1363.3 L627.9,1360.6 L632.7,1357.1 L637.2,1353.2 L641.8,1349.3 L646.4,1345.5 L650.9,1341.5 L655.0,1337.1 L659.1,1332.7 L663.1,1328.3 L667.1,1323.8 L671.0,1319.2 L674.7,1314.5 L678.2,1309.6 L681.3,1304.5 L684.2,1299.2 L687.2,1294.0 L690.0,1288.8 L692.3,1283.2 L694.1,1277.5 L696.0,1271.8 L698.1,1266.2 L700.4,1260.7 L702.9,1255.2 L705.5,1249.8 L707.9,1244.3 L710.3,1238.8 L712.5,1233.2 L714.7,1227.6 L716.9,1222.0 L719.1,1216.4 L721.2,1210.8 L723.4,1205.2 L725.5,1199.6 L727.7,1194.0 L729.8,1188.4 L731.9,1182.7 L733.9,1177.1 L736.0,1171.4 L737.9,1165.8 L739.9,1160.1 L741.8,1154.4 L743.7,1148.7 L745.8,1143.1 L747.9,1137.5 L750.2,1131.9 L752.5,1126.4 L754.9,1120.8 L757.1,1115.3 L759.2,1109.6 L761.2,1104.0 L763.1,1098.3 L765.0,1092.6 L766.9,1086.9 L768.8,1081.2 L770.6,1075.5 L772.3,1069.7 L774.1,1064.0 L775.9,1058.2 L777.8,1052.5 L779.7,1046.8 L781.7,1041.2 L783.8,1035.6 L786.0,1030.0 L788.3,1024.4 L790.6,1018.9 L792.9,1013.3 L795.3,1007.8 L797.8,1002.4 L800.5,997.0 L803.4,991.8 L806.9,986.9 L811.1,982.7 L815.9,979.3 L821.3,977.7 L826.8,978.9 L831.7,982.2 L835.8,986.5 L839.6,991.1 L843.1,996.0 L846.5,1001.0 L849.6,1006.1 L852.5,1011.4 L855.3,1016.7 L857.9,1022.1 L860.3,1027.6 L862.6,1033.1 L864.8,1038.7 L867.0,1044.3 L869.3,1049.9 L871.5,1055.5 L873.7,1061.0 L876.0,1066.6 L878.2,1072.2 L880.4,1077.8 L882.6,1083.3 L884.8,1088.9 L887.1,1094.5 L889.4,1100.0 L891.8,1105.5 L894.3,1111.0 L896.7,1116.5 L899.2,1121.9 L901.8,1127.4 L904.3,1132.8 L906.9,1138.2 L909.5,1143.7 L912.1,1149.0 L914.8,1154.4 L917.6,1159.8 L920.4,1165.1 L923.3,1170.3 L926.2,1175.6 L929.2,1180.8 L932.2,1186.0 L935.2,1191.2 L938.2,1196.4 L941.2,1201.6 L944.3,1206.7 L947.4,1211.9 L950.6,1216.9 L954.0,1221.9 L957.4,1226.8 L961.0,1231.7 L964.6,1236.4 L968.4,1241.1 L972.1,1245.8 L975.9,1250.5 L979.8,1255.0 L983.8,1259.6 L987.8,1264.0 L991.8,1268.4 L996.0,1272.8 L1000.3,1277.0 L1004.7,1281.0 L1009.2,1285.1 L1013.5,1289.2 L1017.8,1293.4 L1022.0,1297.7 L1026.2,1302.0 L1030.4,1306.3 L1034.6,1310.5 L1039.0,1314.6 L1043.6,1318.5 L1048.4,1322.1 L1053.3,1325.6 L1058.2,1329.0 L1063.2,1332.3 L1068.2,1335.6 L1073.3,1338.8 L1078.5,1341.7 L1083.8,1344.4 L1089.3,1346.8 L1094.8,1349.1 L1100.4,1351.4 L1106.0,1353.7 L1111.6,1355.8 L1117.2,1358.0 L1122.8,1360.0 L1128.5,1362.0 L1134.1,1364.0 L1139.9,1365.8 L1145.6,1367.6 L1151.3,1369.4 L1157.1,1371.1 L1162.9,1372.7 L1168.6,1374.3 L1174.4,1375.9 L1180.2,1377.5 L1186.0,1379.0 L1191.8,1380.6 L1197.7,1382.0 L1203.5,1383.5 L1209.3,1384.9 L1215.2,1386.3 L1221.0,1387.6 L1226.9,1388.9 L1232.7,1390.2 L1238.6,1391.4 L1244.5,1392.6 L1250.4,1393.8 L1256.3,1394.9 L1262.2,1396.0 L1268.1,1397.1 L1274.0,1398.1 L1279.9,1399.1 L1285.9,1400.1 L1291.8,1401.0 L1297.7,1401.9 L1303.7,1402.8 L1309.6,1403.6 L1315.6,1404.4 L1321.5,1405.1 L1327.5,1405.8 L1333.5,1406.4 L1339.4,1407.0 L1345.4,1407.6 L1351.4,1408.2 L1357.4,1408.7 L1363.4,1409.3 L1369.3,1409.9 L1375.3,1410.4 L1381.3,1411.0 L1387.3,1411.6 L1393.3,1412.1 L1399.2,1412.6 L1405.2,1413.1 L1411.2,1413.6 L1417.2,1414.0 L1423.2,1414.4 L1429.2,1414.8 L1435.2,1415.2 L1441.2,1415.6 L1447.2,1415.9 L1453.1,1416.3 L1459.1,1416.6 L1465.1,1417.0 L1471.1,1417.4 L1477.1,1417.8 L1483.1,1418.3 L1489.1,1418.7 L1495.1,1419.2 L1501.1,1419.7 L1507.0,1420.2 L1513.0,1420.7 L1519.0,1421.2 L1525.0,1421.7 L1531.0,1422.2 L1537.0,1422.7 L1543.0,1423.2 L1548.9,1423.7 L1554.9,1424.1 L1560.9,1424.5 L1566.9,1424.9 L1572.9,1425.2 L1578.9,1425.5 L1584.9,1425.8 L1590.9,1426.1 L1596.9,1426.4 L1602.9,1426.6 L1608.9,1426.9 L1614.9,1427.1 L1620.9,1427.3 L1626.9,1427.5 L1632.9,1427.7 L1638.9,1427.8 L1644.9,1428.0 L1650.9,1428.2 L1656.9,1428.4 L1662.9,1428.5 L1668.9,1428.7 L1674.9,1428.8 L1680.9,1429.0 L1686.9,1429.2 L1692.9,1429.3 L1698.9,1429.5 L1704.9,1429.6 L1710.9,1429.8 L1716.9,1429.9 L1722.9,1430.1 L1728.9,1430.2 L1734.9,1430.4 L1740.9,1430.5 L1747.0,1430.6 L1753.0,1430.8 L1759.0,1430.9 L1765.0,1431.0 L1771.0,1431.2 L1777.0,1431.3 L1783.0,1431.4 L1789.0,1431.6 L1795.0,1431.7 L1801.0,1431.8 L1807.0,1431.9 L1813.0,1432.1 L1819.0,1432.2 L1825.0,1432.3 L1831.0,1432.5 L1833.0,1432.5" stroke="#c03a26"/>
<path d="M296.0,1183.8 L296.6,1189.8 L297.3,1195.7 L298.0,1201.7 L298.7,1207.7 L299.6,1213.6 L300.8,1219.5 L302.6,1225.2 L305.0,1230.7 L307.8,1236.0 L311.1,1241.0 L315.0,1245.4 L319.6,1249.4 L324.4,1253.0 L329.3,1256.3 L334.5,1259.4 L339.7,1262.3 L345.1,1265.0 L350.5,1267.6 L355.9,1270.3 L361.2,1273.1 L366.4,1276.1 L371.6,1279.1 L376.8,1282.0 L382.2,1284.7 L387.5,1287.4 L392.9,1290.1 L398.4,1292.4 L404.1,1294.3 L409.9,1295.9 L415.7,1297.4 L421.6,1298.7 L427.5,1299.7 L433.4,1300.6 L439.3,1301.7 L445.2,1303.1 L451.0,1304.6 L456.7,1306.5 L462.3,1308.6 L467.8,1310.9 L473.4,1313.2 L478.8,1315.7 L484.1,1318.5 L489.3,1321.5 L494.5,1324.6 L499.6,1327.7 L504.8,1330.8 L509.9,1333.9 L515.1,1337.0 L520.2,1340.1 L525.4,1343.2 L530.5,1346.2 L535.7,1349.3 L540.8,1352.4 L545.9,1355.6 L550.9,1359.0 L555.8,1362.4 L560.8,1365.7 L565.9,1368.9 L571.1,1371.9 L576.3,1374.8 L581.7,1377.4 L587.3,1379.6 L593.0,1381.4 L598.9,1382.8 L604.8,1383.6 L610.8,1384.0 L616.7,1383.7 L622.7,1382.8 L628.4,1381.2 L634.0,1378.9 L639.4,1376.4 L644.7,1373.6 L649.9,1370.6 L655.0,1367.4 L659.8,1363.8 L664.5,1360.1 L669.1,1356.2 L673.5,1352.1 L677.8,1347.9 L682.1,1343.7 L686.2,1339.4 L690.3,1335.0 L694.2,1330.4 L698.1,1325.9 L702.0,1321.3 L705.8,1316.6 L709.4,1311.9 L712.5,1306.8 L715.1,1301.4 L717.9,1296.1 L721.0,1291.0 L724.2,1285.9 L727.2,1280.7 L730.0,1275.4 L732.6,1270.0 L735.1,1264.6 L737.6,1259.1 L740.2,1253.7 L742.9,1248.3 L745.9,1243.1 L748.8,1237.9 L751.5,1232.5 L754.0,1227.1 L756.5,1221.6 L759.0,1216.1 L761.5,1210.7 L764.0,1205.2 L766.5,1199.8 L769.0,1194.3 L771.7,1188.9 L774.4,1183.6 L777.1,1178.2 L779.8,1172.9 L782.4,1167.5 L784.9,1162.0 L787.4,1156.5 L789.9,1151.1 L792.3,1145.6 L794.8,1140.1 L797.3,1134.7 L799.7,1129.2 L802.2,1123.7 L804.9,1118.3 L807.8,1113.1 L811.2,1108.2 L815.1,1103.7 L819.6,1099.7 L824.6,1096.7 L830.3,1095.5 L836.0,1096.6 L841.2,1099.4 L845.7,1103.3 L849.7,1107.8 L853.4,1112.4 L857.0,1117.3 L860.3,1122.3 L863.6,1127.3 L866.8,1132.4 L869.9,1137.5 L872.9,1142.7 L875.9,1147.9 L878.9,1153.2 L881.7,1158.4 L884.5,1163.7 L887.3,1169.1 L890.0,1174.4 L892.9,1179.7 L895.7,1185.0 L898.6,1190.3 L901.5,1195.5 L904.5,1200.7 L907.6,1205.9 L910.8,1210.9 L914.1,1216.0 L917.5,1220.9 L920.9,1225.8 L924.4,1230.7 L927.9,1235.6 L931.3,1240.5 L934.8,1245.4 L938.3,1250.3 L942.0,1255.1 L945.7,1259.7 L949.6,1264.3 L953.6,1268.8 L957.6,1273.3 L961.6,1277.8 L965.5,1282.3 L969.4,1286.9 L973.3,1291.4 L977.3,1296.0 L981.3,1300.4 L985.4,1304.8 L989.5,1309.1 L993.8,1313.4 L998.1,1317.6 L1002.5,1321.7 L1007.1,1325.5 L1011.8,1329.2 L1016.8,1332.5 L1022.0,1335.5 L1027.2,1338.5 L1032.4,1341.5 L1037.6,1344.6 L1042.7,1347.7 L1047.8,1350.8 L1053.0,1353.8 L1058.3,1356.6 L1063.7,1359.2 L1069.2,1361.5 L1074.9,1363.6 L1080.6,1365.5 L1086.3,1367.3 L1092.1,1369.0 L1097.8,1370.6 L1103.6,1372.2 L1109.4,1373.7 L1115.2,1375.3 L1121.0,1376.8 L1126.8,1378.4 L1132.6,1380.0 L1138.4,1381.7 L1144.2,1383.3 L1149.9,1384.9 L1155.7,1386.5 L1161.5,1388.1 L1167.3,1389.6 L1173.1,1391.0 L1179.0,1392.4 L1184.8,1393.8 L1190.7,1395.0 L1196.6,1396.2 L1202.5,1397.4 L1208.4,1398.5 L1214.3,1399.6 L1220.2,1400.7 L1226.1,1401.7 L1232.0,1402.6 L1238.0,1403.6 L1243.9,1404.5 L1249.8,1405.4 L1255.8,1406.2 L1261.7,1407.1 L1267.7,1407.9 L1273.6,1408.7 L1279.6,1409.5 L1285.5,1410.3 L1291.5,1411.1 L1297.4,1411.8 L1303.4,1412.5 L1309.4,1413.2 L1315.3,1413.9 L1321.3,1414.6 L1327.3,1415.3 L1333.2,1415.9 L1339.2,1416.5 L1345.2,1417.1 L1351.2,1417.7 L1357.1,1418.2 L1363.1,1418.7 L1369.1,1419.3 L1375.1,1419.8 L1381.1,1420.3 L1387.0,1420.7 L1393.0,1421.2 L1399.0,1421.6 L1405.0,1422.0 L1411.0,1422.4 L1417.0,1422.8 L1423.0,1423.2 L1429.0,1423.5 L1435.0,1423.8 L1441.0,1424.2 L1447.0,1424.5 L1453.0,1424.8 L1459.0,1425.1 L1464.9,1425.4 L1470.9,1425.7 L1476.9,1426.1 L1482.9,1426.4 L1488.9,1426.7 L1494.9,1427.0 L1500.9,1427.3 L1506.9,1427.7 L1512.9,1428.0 L1518.9,1428.3 L1524.9,1428.6 L1530.9,1428.9 L1536.9,1429.2 L1542.9,1429.5 L1548.9,1429.8 L1554.9,1430.1 L1560.9,1430.3 L1566.9,1430.6 L1572.9,1430.8 L1578.9,1431.0 L1584.9,1431.2 L1590.9,1431.4 L1596.9,1431.6 L1602.9,1431.8 L1608.9,1432.0 L1614.9,1432.1 L1620.9,1432.3 L1626.9,1432.4 L1632.9,1432.6 L1638.9,1432.7 L1644.9,1432.9 L1650.9,1433.0 L1656.9,1433.1 L1662.9,1433.3 L1668.9,1433.4 L1674.9,1433.5 L1680.9,1433.6 L1686.9,1433.7 L1692.9,1433.9 L1698.9,1434.0 L1704.9,1434.1 L1710.9,1434.2 L1716.9,1434.3 L1722.9,1434.4 L1728.9,1434.5 L1734.9,1434.6 L1740.9,1434.7 L1747.0,1434.8 L1753.0,1434.9 L1759.0,1435.0 L1765.0,1435.1 L1771.0,1435.1 L1777.0,1435.2 L1783.0,1435.3 L1789.0,1435.4 L1795.0,1435.5 L1801.0,1435.6 L1807.0,1435.6 L1813.0,1435.7 L1819.0,1435.8 L1825.0,1435.9 L1831.0,1436.0 L1833.0,1436.0" stroke="#1f2a62"/>
<path d="M296.0,1212.0 L297.0,1217.9 L298.1,1223.8 L299.2,1229.7 L300.5,1235.6 L302.0,1241.4 L303.5,1247.2 L305.1,1253.0 L306.8,1258.8 L308.8,1264.4 L311.4,1269.8 L314.4,1275.0 L317.9,1279.9 L321.7,1284.5 L325.9,1288.8 L330.3,1292.8 L335.1,1296.4 L340.3,1299.5 L345.6,1302.2 L351.1,1304.6 L356.7,1306.9 L362.2,1309.2 L367.6,1311.8 L372.9,1314.6 L378.1,1317.6 L383.3,1320.7 L388.4,1323.9 L393.5,1326.9 L398.8,1329.7 L404.4,1332.1 L410.0,1333.9 L415.9,1335.3 L421.8,1336.4 L427.7,1337.5 L433.6,1338.7 L439.5,1339.9 L445.3,1341.2 L451.1,1342.8 L456.9,1344.5 L462.6,1346.3 L468.4,1348.0 L474.2,1349.5 L480.0,1350.8 L485.9,1352.1 L491.7,1353.6 L497.2,1355.9 L502.6,1358.6 L508.0,1361.2 L513.5,1363.4 L519.1,1365.7 L524.5,1368.3 L529.9,1371.0 L535.3,1373.5 L540.9,1375.7 L546.5,1377.9 L552.1,1380.1 L557.7,1382.3 L563.2,1384.6 L568.8,1386.8 L574.4,1389.1 L579.9,1391.3 L585.6,1393.4 L591.3,1395.0 L597.2,1396.3 L603.1,1397.1 L609.1,1397.7 L615.1,1398.3 L621.1,1398.8 L627.1,1399.0 L633.1,1398.8 L639.0,1398.2 L645.0,1397.3 L650.9,1396.8 L656.8,1396.7 L662.7,1395.7 L668.3,1393.7 L673.8,1391.3 L679.2,1388.7 L684.5,1385.8 L689.7,1382.8 L695.0,1380.0 L700.3,1377.3 L705.7,1374.6 L711.1,1371.9 L716.4,1369.1 L721.6,1366.1 L726.9,1363.2 L732.2,1360.4 L737.5,1357.6 L742.7,1354.6 L747.6,1351.2 L752.4,1347.5 L756.9,1343.6 L761.3,1339.6 L765.7,1335.4 L770.0,1331.3 L774.4,1327.1 L778.6,1322.9 L782.9,1318.6 L787.1,1314.3 L791.3,1310.1 L795.6,1305.9 L799.8,1301.6 L804.1,1297.4 L808.5,1293.3 L813.1,1289.4 L818.0,1286.1 L823.5,1283.7 L829.2,1282.0 L835.1,1281.2 L841.1,1281.5 L846.9,1282.8 L852.4,1285.0 L857.7,1287.8 L863.0,1290.7 L868.3,1293.5 L873.6,1296.2 L878.8,1299.2 L883.8,1302.5 L888.8,1306.0 L893.7,1309.5 L898.5,1312.9 L903.4,1316.4 L908.3,1319.9 L913.3,1323.3 L918.2,1326.8 L923.1,1330.2 L928.0,1333.7 L932.9,1337.2 L937.8,1340.6 L942.7,1344.1 L947.7,1347.4 L952.7,1350.7 L957.8,1353.9 L962.9,1357.0 L968.1,1360.1 L973.3,1363.0 L978.6,1365.9 L984.0,1368.6 L989.3,1371.3 L994.8,1373.9 L1000.2,1376.3 L1005.8,1378.7 L1011.3,1380.9 L1016.9,1383.1 L1022.6,1385.2 L1028.2,1387.3 L1033.8,1389.3 L1039.5,1391.2 L1045.3,1393.0 L1051.0,1394.6 L1056.9,1396.1 L1062.7,1397.5 L1068.6,1398.7 L1074.5,1399.7 L1080.4,1400.7 L1086.3,1401.7 L1092.2,1402.9 L1098.1,1404.0 L1104.0,1405.1 L1109.9,1406.2 L1115.8,1407.3 L1121.7,1408.4 L1127.6,1409.4 L1133.6,1410.5 L1139.5,1411.4 L1145.4,1412.4 L1151.3,1413.3 L1157.3,1414.2 L1163.2,1415.0 L1169.2,1415.8 L1175.1,1416.6 L1181.1,1417.3 L1187.1,1418.0 L1193.0,1418.6 L1199.0,1419.2 L1205.0,1419.8 L1211.0,1420.3 L1217.0,1420.9 L1222.9,1421.4 L1228.9,1421.9 L1234.9,1422.3 L1240.9,1422.8 L1246.9,1423.3 L1252.9,1423.7 L1258.9,1424.2 L1264.8,1424.6 L1270.8,1425.0 L1276.8,1425.5 L1282.8,1426.0 L1288.8,1426.4 L1294.8,1426.9 L1300.8,1427.3 L1306.8,1427.8 L1312.8,1428.2 L1318.7,1428.6 L1324.7,1428.9 L1330.7,1429.3 L1336.7,1429.6 L1342.7,1429.9 L1348.7,1430.2 L1354.7,1430.5 L1360.7,1430.8 L1366.7,1431.1 L1372.7,1431.4 L1378.7,1431.7 L1384.7,1432.0 L1390.7,1432.3 L1396.7,1432.5 L1402.7,1432.8 L1408.7,1433.1 L1414.7,1433.3 L1420.7,1433.6 L1426.7,1433.8 L1432.7,1434.1 L1438.7,1434.3 L1444.7,1434.6 L1450.7,1434.8 L1456.7,1435.0 L1462.7,1435.2 L1468.7,1435.4 L1474.7,1435.5 L1480.7,1435.7 L1486.7,1435.8 L1492.7,1436.0 L1498.7,1436.1 L1504.7,1436.3 L1510.7,1436.4 L1516.7,1436.5 L1522.8,1436.6 L1528.8,1436.7 L1534.8,1436.8 L1540.8,1436.9 L1546.8,1437.0 L1552.8,1437.1 L1558.8,1437.2 L1564.8,1437.3 L1570.8,1437.4 L1576.8,1437.5 L1582.8,1437.6 L1588.8,1437.7 L1594.8,1437.8 L1600.8,1437.8 L1606.8,1437.9 L1612.8,1438.0 L1618.8,1438.1 L1624.8,1438.2 L1630.8,1438.2 L1636.8,1438.3 L1642.8,1438.4 L1648.8,1438.4 L1654.9,1438.5 L1660.9,1438.6 L1666.9,1438.7 L1672.9,1438.7 L1678.9,1438.8 L1684.9,1438.8 L1690.9,1438.9 L1696.9,1439.0 L1702.9,1439.0 L1708.9,1439.1 L1714.9,1439.1 L1720.9,1439.2 L1726.9,1439.2 L1732.9,1439.3 L1738.9,1439.3 L1744.9,1439.4 L1750.9,1439.4 L1756.9,1439.5 L1762.9,1439.5 L1768.9,1439.6 L1775.0,1439.6 L1781.0,1439.6 L1787.0,1439.7 L1793.0,1439.7 L1799.0,1439.8 L1805.0,1439.8 L1811.0,1439.8 L1817.0,1439.9 L1823.0,1439.9 L1829.0,1440.0 L1833.0,1440.0" stroke="#000000"/>
</g>
<g fill="#000">
<rect x="295.0" y="884.5" width="1540.0" height="3"/>
<rect x="295.0" y="1470.0" width="1540.0" height="3"/>
<rect x="1832.0" y="884.5" width="3" height="588.5"/>
</g>
<rect x="292" y="886.0" width="3" height="585.5" fill="#c0c0c0"/>
<rect x="295" y="886.0" width="3" height="585.5" fill="#6e6e6e"/>
<g stroke="#000" stroke-width="2.6">
<line x1="552.7" y1="1471.5" x2="552.7" y2="1456.5"/>
<line x1="552.7" y1="886.0" x2="552.7" y2="901.0"/>
<line x1="808.8" y1="1471.5" x2="808.8" y2="1456.5"/>
<line x1="808.8" y1="886.0" x2="808.8" y2="901.0"/>
<line x1="1065.0" y1="1471.5" x2="1065.0" y2="1456.5"/>
<line x1="1065.0" y1="886.0" x2="1065.0" y2="901.0"/>
<line x1="1321.2" y1="1471.5" x2="1321.2" y2="1456.5"/>
<line x1="1321.2" y1="886.0" x2="1321.2" y2="901.0"/>
<line x1="1577.3" y1="1471.5" x2="1577.3" y2="1456.5"/>
<line x1="1577.3" y1="886.0" x2="1577.3" y2="901.0"/>
<line x1="296.5" y1="1032.4" x2="311.5" y2="1032.4"/>
<line x1="1833.5" y1="1032.4" x2="1818.5" y2="1032.4"/>
<line x1="296.5" y1="1178.8" x2="311.5" y2="1178.8"/>
<line x1="1833.5" y1="1178.8" x2="1818.5" y2="1178.8"/>
<line x1="296.5" y1="1325.1" x2="311.5" y2="1325.1"/>
<line x1="1833.5" y1="1325.1" x2="1818.5" y2="1325.1"/>
</g>
<g style="font-family:'Liberation Serif','Times New Roman',serif;font-size:66px" fill="#000">
<text x="296.5" y="1545.0" text-anchor="middle">200</text>
<text x="552.7" y="1545.0" text-anchor="middle">300</text>
<text x="808.8" y="1545.0" text-anchor="middle">400</text>
<text x="1065.0" y="1545.0" text-anchor="middle">500</text>
<text x="1321.2" y="1545.0" text-anchor="middle">600</text>
<text x="1577.3" y="1545.0" text-anchor="middle">700</text>
<text x="1833.5" y="1545.0" text-anchor="middle">800</text>
<text x="278.5" y="910.0" text-anchor="end">4</text>
<text x="278.5" y="1056.4" text-anchor="end">3</text>
<text x="278.5" y="1202.8" text-anchor="end">2</text>
<text x="278.5" y="1349.1" text-anchor="end">1</text>
<text x="278.5" y="1495.5" text-anchor="end">0</text>
</g>
<text x="1065" y="1626.0" text-anchor="middle" style="font-family:'Liberation Serif','Times New Roman',serif;font-size:70px">Wavelength (nm)</text>
<text transform="translate(207,1178.6) rotate(-90)" text-anchor="middle" style="font-family:'Liberation Serif','Times New Roman',serif;font-size:72px">k</text>
<text x="330.5" y="957.8" style="font-family:'Liberation Serif','Times New Roman',serif;font-size:60px;font-weight:bold" fill="#e2321e">(b)</text>
<line x1="1330.0" y1="982.0" x2="1491.0" y2="982.0" stroke="#006e28" stroke-width="5"/>
<text x="1506.0" y="1003.9" style="font-family:'Liberation Serif','Times New Roman',serif;font-size:66px" xml:space="preserve">20 mins</text>
<line x1="1330.0" y1="1069.6" x2="1491.0" y2="1069.6" stroke="#c03a26" stroke-width="5"/>
<text x="1506.0" y="1091.6" style="font-family:'Liberation Serif','Times New Roman',serif;font-size:66px" xml:space="preserve">15 mins</text>
<line x1="1330.0" y1="1156.7" x2="1491.0" y2="1156.7" stroke="#1f2a62" stroke-width="5"/>
<text x="1506.0" y="1179.7" style="font-family:'Liberation Serif','Times New Roman',serif;font-size:66px" xml:space="preserve">10 mins</text>
<line x1="1330.0" y1="1244.9" x2="1491.0" y2="1244.9" stroke="#000000" stroke-width="5"/>
<text x="1506.0" y="1267.3" style="font-family:'Liberation Serif','Times New Roman',serif;font-size:66px" xml:space="preserve"> 5 mins</text>
<clipPath id="cc"><rect x="296.5" y="1819.0" width="1537.0" height="480.0"/></clipPath>
<g clip-path="url(#cc)" fill="none" stroke-width="4.4" stroke-linejoin="round" stroke-linecap="round">
<path d="M296.0,1902.0 L298.5,1896.8 L300.1,1891.1 L301.5,1885.2 L303.3,1879.5 L305.6,1874.0 L308.2,1868.6 L311.2,1863.4 L314.7,1858.6 L318.8,1854.2 L323.2,1850.2 L327.9,1846.5 L332.8,1842.9 L337.6,1839.3 L342.4,1835.8 L347.4,1832.5 L352.6,1829.5 L358.1,1827.0 L363.7,1825.0 L369.5,1823.5 L375.4,1822.4 L381.3,1821.7 L387.3,1821.4 L393.3,1821.4 L399.3,1821.7 L405.2,1822.6 L411.1,1823.6 L417.0,1824.8 L422.9,1826.1 L428.7,1827.5 L434.5,1829.0 L440.3,1830.7 L445.9,1832.7 L451.3,1835.3 L456.6,1838.1 L461.8,1841.0 L466.9,1844.2 L471.8,1847.7 L476.4,1851.5 L481.1,1855.3 L485.9,1858.9 L490.7,1862.5 L495.3,1866.3 L499.8,1870.2 L504.2,1874.3 L508.4,1878.6 L512.5,1883.0 L516.5,1887.5 L520.6,1891.9 L524.6,1896.3 L528.7,1900.7 L532.6,1905.3 L536.2,1910.1 L539.7,1914.9 L543.2,1919.9 L546.5,1924.9 L549.7,1929.9 L552.8,1935.0 L556.0,1940.1 L559.2,1945.2 L562.4,1950.3 L565.7,1955.3 L569.1,1960.2 L572.7,1965.1 L576.4,1969.7 L580.4,1974.2 L585.0,1978.1 L590.1,1981.0 L595.7,1983.0 L601.6,1984.2 L607.4,1984.5 L612.9,1982.7 L617.7,1979.2 L622.1,1975.1 L626.3,1970.9 L630.4,1966.5 L634.4,1962.0 L638.2,1957.4 L642.0,1952.8 L645.7,1948.0 L649.2,1943.1 L652.4,1938.1 L655.5,1933.0 L658.5,1927.8 L661.5,1922.6 L664.5,1917.3 L667.4,1912.1 L670.3,1906.9 L673.2,1901.6 L676.1,1896.3 L678.9,1891.1 L681.7,1885.7 L684.5,1880.4 L687.3,1875.1 L690.2,1869.9 L693.3,1864.8 L696.7,1859.8 L700.3,1855.0 L703.7,1850.0 L707.0,1845.1 L710.4,1840.1 L714.1,1835.4 L718.2,1831.0 L722.7,1827.1 L727.6,1823.7 L733.0,1821.4 L738.8,1821.4 L744.7,1821.4 L750.4,1823.2 L755.7,1825.8 L760.5,1829.3 L764.7,1833.6 L768.4,1838.3 L771.9,1843.1 L775.5,1848.0 L779.0,1852.8 L782.4,1857.8 L785.8,1862.7 L789.2,1867.6 L792.7,1872.5 L796.7,1877.0 L801.1,1880.9 L806.1,1884.3 L811.5,1886.4 L817.3,1886.3 L822.6,1884.2 L827.1,1880.4 L831.0,1875.9 L834.8,1871.2 L838.6,1866.6 L842.5,1862.0 L846.3,1857.4 L850.0,1852.6 L853.5,1847.7 L856.9,1842.8 L860.5,1838.0 L864.3,1833.5 L868.7,1829.4 L873.7,1826.1 L879.0,1823.4 L884.7,1821.6 L890.6,1821.4 L896.5,1821.4 L902.2,1822.7 L907.4,1825.5 L912.0,1829.3 L916.4,1833.4 L920.7,1837.6 L924.8,1842.0 L928.8,1846.5 L932.7,1851.0 L936.6,1855.5 L940.5,1860.2 L944.3,1864.8 L948.0,1869.5 L951.6,1874.3 L955.3,1879.0 L959.0,1883.8 L962.8,1888.4 L966.6,1893.0 L970.5,1897.6 L974.3,1902.2 L978.2,1906.8 L982.0,1911.4 L985.8,1916.1 L989.4,1920.9 L993.1,1925.6 L996.8,1930.3 L1000.7,1934.9 L1004.7,1939.3 L1008.8,1943.8 L1012.7,1948.3 L1016.5,1952.9 L1020.4,1957.5 L1024.4,1962.0 L1028.5,1966.3 L1032.9,1970.5 L1037.3,1974.5 L1041.7,1978.5 L1046.3,1982.5 L1050.8,1986.4 L1055.3,1990.4 L1059.7,1994.4 L1064.1,1998.6 L1068.4,2002.7 L1072.7,2006.8 L1077.1,2010.9 L1081.5,2015.0 L1086.0,2019.0 L1090.5,2023.0 L1095.1,2026.8 L1099.7,2030.7 L1104.4,2034.4 L1109.1,2038.1 L1114.0,2041.7 L1118.8,2045.1 L1123.8,2048.5 L1128.9,2051.7 L1134.0,2054.8 L1139.2,2057.8 L1144.5,2060.6 L1149.8,2063.3 L1155.2,2066.0 L1160.6,2068.5 L1166.1,2071.1 L1171.5,2073.7 L1176.8,2076.4 L1182.1,2079.1 L1187.4,2082.0 L1192.7,2084.8 L1198.0,2087.7 L1203.3,2090.4 L1208.6,2093.2 L1214.0,2095.8 L1219.5,2098.2 L1225.0,2100.6 L1230.6,2102.7 L1236.2,2104.8 L1241.9,2106.7 L1247.6,2108.5 L1253.4,2110.3 L1259.1,2112.1 L1264.8,2113.9 L1270.5,2115.7 L1276.2,2117.6 L1281.9,2119.5 L1287.6,2121.4 L1293.3,2123.3 L1299.0,2125.1 L1304.7,2126.9 L1310.5,2128.6 L1316.2,2130.3 L1322.0,2131.9 L1327.8,2133.5 L1333.6,2135.1 L1339.4,2136.6 L1345.2,2138.0 L1351.1,2139.4 L1356.9,2140.8 L1362.8,2142.1 L1368.6,2143.4 L1374.5,2144.6 L1380.4,2145.8 L1386.3,2147.0 L1392.2,2148.1 L1398.1,2149.1 L1404.0,2150.2 L1409.9,2151.2 L1415.8,2152.2 L1421.7,2153.2 L1427.6,2154.2 L1433.5,2155.2 L1439.5,2156.2 L1445.4,2157.2 L1451.3,2158.2 L1457.2,2159.2 L1463.1,2160.2 L1469.0,2161.2 L1475.0,2162.2 L1480.9,2163.1 L1486.8,2164.0 L1492.8,2164.9 L1498.7,2165.7 L1504.6,2166.6 L1510.6,2167.4 L1516.5,2168.2 L1522.5,2169.0 L1528.4,2169.9 L1534.3,2170.7 L1540.3,2171.6 L1546.2,2172.5 L1552.2,2173.4 L1558.1,2174.3 L1564.0,2175.2 L1569.9,2176.1 L1575.9,2177.0 L1581.8,2177.8 L1587.8,2178.5 L1593.7,2179.2 L1599.7,2179.9 L1605.7,2180.5 L1611.6,2181.1 L1617.6,2181.7 L1623.6,2182.3 L1629.6,2182.9 L1635.5,2183.4 L1641.5,2183.9 L1647.5,2184.5 L1653.5,2185.0 L1659.4,2185.5 L1665.4,2185.9 L1671.4,2186.5 L1677.4,2187.0 L1683.4,2187.5 L1689.3,2188.1 L1695.3,2188.6 L1701.3,2189.2 L1707.3,2189.8 L1713.2,2190.3 L1719.2,2190.9 L1725.2,2191.4 L1731.2,2191.9 L1737.1,2192.4 L1743.1,2192.9 L1749.1,2193.4 L1755.1,2193.8 L1761.1,2194.2 L1767.1,2194.6 L1773.1,2194.9 L1779.0,2195.2 L1785.0,2195.5 L1791.0,2195.8 L1797.0,2196.1 L1803.0,2196.3 L1809.0,2196.6 L1815.0,2196.8 L1821.0,2197.0 L1827.0,2197.3 L1833.0,2197.5" stroke="#006e28"/>
<path d="M296.0,1856.0 L298.3,1850.5 L301.2,1845.2 L304.7,1840.4 L308.7,1835.9 L313.1,1831.8 L317.9,1828.4 L323.3,1825.9 L329.1,1824.6 L335.1,1823.8 L341.1,1823.3 L347.0,1822.8 L353.0,1822.2 L359.0,1821.6 L365.0,1821.4 L371.0,1821.4 L376.9,1822.1 L382.8,1823.3 L388.6,1824.8 L394.3,1826.5 L400.2,1828.0 L406.0,1829.2 L411.9,1830.3 L417.8,1831.5 L423.7,1832.9 L429.4,1834.6 L435.1,1836.6 L440.7,1838.8 L446.2,1841.2 L451.6,1843.8 L456.9,1846.5 L462.1,1849.5 L467.2,1852.8 L471.8,1856.6 L476.1,1860.7 L480.5,1864.8 L485.1,1868.6 L489.9,1872.3 L494.5,1876.1 L499.0,1880.1 L503.4,1884.1 L507.8,1888.3 L512.1,1892.4 L516.3,1896.7 L520.4,1901.1 L524.3,1905.7 L528.1,1910.3 L532.0,1914.9 L535.8,1919.5 L539.7,1924.1 L543.5,1928.7 L547.1,1933.5 L550.5,1938.5 L553.8,1943.5 L557.1,1948.5 L560.4,1953.6 L563.7,1958.6 L567.0,1963.6 L570.4,1968.6 L573.9,1973.4 L577.6,1978.2 L581.5,1982.7 L585.9,1986.7 L591.0,1989.8 L596.5,1992.2 L602.2,1994.0 L608.0,1995.0 L613.8,1994.3 L619.2,1991.9 L624.2,1988.6 L628.9,1984.9 L633.3,1980.9 L637.5,1976.6 L641.6,1972.1 L645.4,1967.5 L649.1,1962.8 L652.5,1957.8 L655.8,1952.8 L658.9,1947.7 L662.0,1942.5 L665.1,1937.4 L668.1,1932.2 L671.2,1927.0 L674.2,1921.9 L677.2,1916.7 L680.2,1911.5 L683.2,1906.3 L686.3,1901.1 L689.6,1896.1 L693.2,1891.3 L697.1,1886.7 L700.8,1882.0 L704.2,1877.1 L707.2,1871.9 L710.1,1866.6 L713.0,1861.4 L716.0,1856.2 L719.3,1851.1 L722.7,1846.2 L726.3,1841.4 L730.1,1836.8 L734.1,1832.3 L738.5,1828.2 L743.4,1824.8 L748.8,1822.6 L754.7,1821.4 L760.7,1821.4 L766.7,1821.4 L772.5,1822.0 L778.1,1824.1 L783.3,1827.1 L788.2,1830.5 L793.1,1833.8 L798.5,1836.4 L804.2,1838.2 L810.1,1839.4 L816.0,1839.8 L822.0,1839.2 L827.8,1837.7 L833.3,1835.5 L838.7,1832.8 L844.0,1830.0 L849.3,1827.2 L854.7,1824.6 L860.3,1822.6 L866.2,1821.5 L872.2,1821.4 L878.2,1821.4 L884.0,1822.3 L889.5,1824.4 L894.9,1827.0 L900.0,1830.1 L904.8,1833.8 L909.2,1837.9 L913.3,1842.2 L917.3,1846.7 L921.1,1851.3 L924.9,1856.0 L928.7,1860.6 L932.6,1865.2 L936.4,1869.9 L940.2,1874.5 L943.9,1879.3 L947.5,1884.0 L951.2,1888.8 L954.8,1893.6 L958.5,1898.4 L962.1,1903.1 L965.9,1907.8 L969.7,1912.4 L973.6,1917.0 L977.4,1921.7 L981.1,1926.4 L984.7,1931.2 L988.4,1935.9 L992.1,1940.6 L996.1,1945.1 L1000.2,1949.5 L1004.2,1953.9 L1008.3,1958.4 L1012.3,1962.8 L1016.4,1967.3 L1020.4,1971.7 L1024.4,1976.2 L1028.5,1980.6 L1032.5,1985.0 L1036.7,1989.4 L1041.0,1993.5 L1045.5,1997.5 L1050.2,2001.2 L1054.9,2004.9 L1059.5,2008.7 L1064.1,2012.6 L1068.7,2016.5 L1073.3,2020.4 L1077.8,2024.3 L1082.4,2028.2 L1087.0,2032.1 L1091.6,2036.0 L1096.3,2039.7 L1101.0,2043.3 L1105.9,2046.8 L1110.9,2050.2 L1115.9,2053.6 L1120.9,2056.8 L1126.0,2060.0 L1131.1,2063.1 L1136.4,2065.9 L1141.7,2068.5 L1147.2,2071.0 L1152.7,2073.4 L1158.2,2075.9 L1163.6,2078.3 L1169.1,2080.8 L1174.5,2083.4 L1179.9,2086.0 L1185.3,2088.7 L1190.7,2091.3 L1196.1,2093.9 L1201.5,2096.5 L1207.0,2099.0 L1212.4,2101.5 L1218.0,2103.8 L1223.5,2106.0 L1229.1,2108.2 L1234.8,2110.2 L1240.5,2112.1 L1246.2,2114.0 L1251.9,2115.8 L1257.6,2117.6 L1263.4,2119.3 L1269.1,2121.0 L1274.9,2122.8 L1280.6,2124.5 L1286.4,2126.2 L1292.2,2127.9 L1297.9,2129.6 L1303.7,2131.3 L1309.4,2132.9 L1315.2,2134.5 L1321.1,2135.9 L1326.9,2137.2 L1332.8,2138.4 L1338.7,2139.7 L1344.5,2141.0 L1350.4,2142.3 L1356.2,2143.6 L1362.1,2145.0 L1368.0,2146.3 L1373.8,2147.5 L1379.7,2148.7 L1385.6,2149.8 L1391.5,2150.8 L1397.5,2151.8 L1403.4,2152.7 L1409.3,2153.7 L1415.2,2154.7 L1421.2,2155.6 L1427.1,2156.6 L1433.0,2157.6 L1438.9,2158.6 L1444.9,2159.6 L1450.8,2160.6 L1456.7,2161.6 L1462.6,2162.6 L1468.5,2163.6 L1474.5,2164.6 L1480.4,2165.5 L1486.3,2166.4 L1492.3,2167.2 L1498.2,2168.1 L1504.2,2168.8 L1510.1,2169.6 L1516.1,2170.4 L1522.0,2171.2 L1528.0,2172.0 L1533.9,2172.8 L1539.9,2173.6 L1545.8,2174.4 L1551.8,2175.2 L1557.8,2176.0 L1563.7,2176.7 L1569.7,2177.4 L1575.6,2178.1 L1581.6,2178.8 L1587.6,2179.5 L1593.5,2180.1 L1599.5,2180.8 L1605.5,2181.4 L1611.5,2182.0 L1617.4,2182.6 L1623.4,2183.1 L1629.4,2183.6 L1635.4,2184.1 L1641.4,2184.6 L1647.4,2185.1 L1653.3,2185.5 L1659.3,2186.0 L1665.3,2186.4 L1671.3,2186.9 L1677.3,2187.4 L1683.3,2187.9 L1689.3,2188.5 L1695.2,2189.1 L1701.2,2189.7 L1707.2,2190.3 L1713.2,2190.9 L1719.1,2191.4 L1725.1,2192.0 L1731.1,2192.5 L1737.1,2193.0 L1743.1,2193.5 L1749.0,2194.0 L1755.0,2194.4 L1761.0,2194.9 L1767.0,2195.3 L1773.0,2195.6 L1779.0,2196.0 L1785.0,2196.3 L1791.0,2196.5 L1797.0,2196.8 L1803.0,2197.1 L1809.0,2197.3 L1815.0,2197.6 L1821.0,2197.8 L1827.0,2198.1 L1833.0,2198.3" stroke="#c03a26"/>
<path d="M296.0,1862.0 L297.6,1856.2 L298.7,1850.3 L299.4,1844.4 L300.3,1838.5 L301.9,1832.7 L304.9,1827.7 L309.5,1824.3 L315.1,1822.5 L321.0,1821.7 L327.0,1821.4 L333.0,1821.4 L339.0,1821.4 L345.0,1821.6 L351.0,1822.2 L356.9,1823.0 L362.8,1824.2 L368.6,1825.8 L374.2,1827.8 L379.8,1829.9 L385.4,1832.3 L390.8,1834.9 L396.1,1837.6 L401.5,1840.3 L406.9,1842.9 L412.3,1845.4 L417.9,1847.6 L423.5,1849.8 L429.1,1852.0 L434.6,1854.4 L440.0,1857.0 L445.3,1859.8 L450.5,1862.9 L455.6,1866.0 L460.7,1869.1 L465.9,1872.2 L470.9,1875.4 L475.9,1878.7 L481.0,1882.0 L486.1,1885.1 L491.2,1888.2 L496.1,1891.6 L500.9,1895.3 L505.5,1899.2 L510.0,1903.1 L514.5,1907.1 L518.8,1911.2 L523.0,1915.5 L527.1,1919.9 L531.1,1924.4 L534.9,1929.1 L538.6,1933.8 L542.2,1938.6 L545.8,1943.4 L549.2,1948.4 L552.5,1953.4 L555.8,1958.4 L559.1,1963.4 L562.5,1968.3 L566.0,1973.2 L569.5,1978.1 L573.2,1982.8 L576.9,1987.5 L580.8,1992.1 L584.7,1996.6 L588.8,2001.0 L593.0,2005.3 L597.5,2009.3 L602.4,2012.6 L607.7,2015.5 L613.2,2018.0 L618.7,2020.2 L624.5,2021.1 L630.3,2020.3 L635.8,2018.1 L640.9,2015.0 L645.7,2011.3 L650.0,2007.2 L654.1,2002.8 L657.9,1998.2 L661.6,1993.5 L665.2,1988.7 L668.7,1983.8 L672.1,1978.9 L675.7,1974.1 L679.7,1969.6 L683.9,1965.3 L688.1,1961.0 L692.1,1956.5 L696.0,1951.9 L699.7,1947.3 L703.5,1942.6 L707.2,1937.9 L710.9,1933.1 L714.3,1928.2 L717.5,1923.1 L720.3,1917.8 L723.0,1912.5 L725.6,1907.1 L728.4,1901.8 L731.4,1896.6 L734.6,1891.5 L738.0,1886.5 L741.3,1881.6 L744.7,1876.6 L748.2,1871.7 L751.6,1866.8 L755.1,1861.8 L758.4,1856.9 L761.7,1851.9 L765.6,1847.3 L769.9,1843.1 L774.5,1839.3 L779.3,1835.7 L784.3,1832.4 L789.5,1829.5 L794.9,1826.9 L800.6,1824.8 L806.3,1823.3 L812.2,1822.2 L818.2,1821.6 L824.2,1821.4 L830.2,1821.4 L836.2,1821.4 L842.2,1821.5 L848.1,1822.4 L853.7,1824.2 L859.1,1826.9 L864.2,1830.0 L869.3,1833.1 L874.6,1836.0 L879.8,1839.0 L884.5,1842.5 L889.0,1846.5 L893.2,1850.8 L897.1,1855.4 L900.7,1860.2 L904.3,1865.0 L907.8,1869.8 L911.4,1874.7 L914.8,1879.6 L918.3,1884.5 L921.6,1889.5 L924.9,1894.5 L928.2,1899.5 L931.6,1904.4 L935.2,1909.3 L938.8,1914.1 L942.5,1918.8 L946.2,1923.5 L949.8,1928.3 L953.5,1933.1 L957.2,1937.8 L960.9,1942.5 L964.7,1947.1 L968.6,1951.7 L972.5,1956.3 L976.3,1960.9 L980.2,1965.5 L984.0,1970.2 L987.8,1974.8 L991.6,1979.4 L995.5,1984.0 L999.5,1988.5 L1003.7,1992.8 L1008.0,1997.0 L1012.2,2001.2 L1016.5,2005.5 L1020.6,2009.8 L1024.7,2014.2 L1028.9,2018.5 L1033.0,2022.9 L1037.2,2027.1 L1041.6,2031.2 L1046.1,2035.1 L1050.9,2038.8 L1055.6,2042.5 L1060.4,2046.1 L1065.3,2049.6 L1070.2,2053.0 L1075.2,2056.4 L1080.2,2059.7 L1085.3,2062.8 L1090.4,2065.9 L1095.6,2068.9 L1100.9,2071.8 L1106.3,2074.5 L1111.6,2077.2 L1117.0,2079.8 L1122.4,2082.4 L1127.8,2085.1 L1133.2,2087.7 L1138.6,2090.4 L1144.0,2093.0 L1149.4,2095.6 L1154.8,2098.1 L1160.3,2100.6 L1165.8,2103.1 L1171.2,2105.6 L1176.7,2108.1 L1182.2,2110.5 L1187.7,2112.9 L1193.2,2115.3 L1198.7,2117.5 L1204.3,2119.7 L1210.0,2121.7 L1215.7,2123.7 L1221.4,2125.6 L1227.1,2127.4 L1232.8,2129.2 L1238.6,2130.9 L1244.3,2132.5 L1250.1,2134.1 L1255.9,2135.6 L1261.8,2137.0 L1267.6,2138.5 L1273.4,2139.9 L1279.2,2141.4 L1285.1,2142.8 L1290.9,2144.2 L1296.8,2145.5 L1302.6,2146.7 L1308.5,2147.9 L1314.4,2149.0 L1320.3,2150.1 L1326.2,2151.1 L1332.1,2152.2 L1338.1,2153.2 L1344.0,2154.2 L1349.9,2155.3 L1355.8,2156.3 L1361.7,2157.4 L1367.6,2158.5 L1373.5,2159.6 L1379.4,2160.8 L1385.3,2161.9 L1391.2,2163.1 L1397.0,2164.3 L1402.9,2165.4 L1408.8,2166.5 L1414.8,2167.6 L1420.7,2168.5 L1426.6,2169.5 L1432.5,2170.4 L1438.5,2171.2 L1444.4,2172.1 L1450.4,2172.8 L1456.3,2173.6 L1462.3,2174.3 L1468.2,2175.0 L1474.2,2175.7 L1480.2,2176.4 L1486.1,2177.2 L1492.1,2177.9 L1498.0,2178.7 L1504.0,2179.5 L1509.9,2180.3 L1515.9,2181.1 L1521.8,2181.9 L1527.8,2182.7 L1533.7,2183.5 L1539.7,2184.1 L1545.7,2184.7 L1551.6,2185.2 L1557.6,2185.6 L1563.6,2186.0 L1569.6,2186.5 L1575.6,2186.9 L1581.6,2187.4 L1587.6,2187.9 L1593.5,2188.4 L1599.5,2189.0 L1605.5,2189.6 L1611.5,2190.2 L1617.4,2190.8 L1623.4,2191.4 L1629.4,2192.0 L1635.3,2192.6 L1641.3,2193.2 L1647.3,2193.8 L1653.3,2194.4 L1659.2,2195.0 L1665.2,2195.6 L1671.2,2196.2 L1677.1,2196.8 L1683.1,2197.3 L1689.1,2197.8 L1695.1,2198.3 L1701.1,2198.7 L1707.1,2199.2 L1713.1,2199.6 L1719.0,2200.0 L1725.0,2200.4 L1731.0,2200.8 L1737.0,2201.2 L1743.0,2201.5 L1749.0,2201.8 L1755.0,2202.1 L1761.0,2202.4 L1767.0,2202.6 L1773.0,2202.8 L1779.0,2203.0 L1785.0,2203.2 L1791.0,2203.3 L1797.0,2203.4 L1803.0,2203.5 L1809.0,2203.6 L1815.0,2203.7 L1821.0,2203.8 L1827.0,2203.9 L1833.0,2204.0" stroke="#1f2a62"/>
<path d="M296.0,1850.0 L296.2,1844.0 L296.9,1838.1 L298.7,1832.4 L301.7,1827.3 L305.9,1823.3 L311.3,1821.4 L317.1,1821.4 L323.0,1822.5 L328.5,1824.7 L333.7,1827.6 L338.7,1831.0 L343.6,1834.4 L348.7,1837.7 L353.9,1840.7 L359.2,1843.5 L364.5,1846.2 L369.8,1849.1 L374.7,1852.5 L379.4,1856.3 L383.6,1860.5 L387.6,1865.0 L391.6,1869.4 L395.8,1873.8 L400.0,1878.0 L404.4,1882.1 L409.0,1885.9 L413.8,1889.6 L418.8,1892.9 L424.0,1895.9 L429.2,1898.8 L434.6,1901.5 L440.0,1904.2 L445.4,1906.8 L450.7,1909.6 L455.9,1912.6 L461.0,1915.7 L466.3,1918.6 L471.6,1921.5 L476.7,1924.6 L481.7,1927.9 L486.8,1931.0 L491.8,1934.3 L496.5,1938.0 L501.0,1942.0 L505.4,1946.1 L509.7,1950.3 L513.9,1954.6 L518.1,1958.8 L522.4,1963.1 L526.6,1967.3 L530.9,1971.6 L535.1,1975.8 L539.4,1980.1 L543.6,1984.3 L547.8,1988.6 L552.1,1992.8 L556.3,1997.1 L560.7,2001.2 L565.1,2005.2 L569.6,2009.2 L574.1,2013.2 L578.6,2017.2 L583.0,2021.3 L587.3,2025.5 L591.5,2029.7 L595.8,2033.9 L600.3,2037.8 L605.2,2041.4 L610.3,2044.6 L615.5,2047.6 L620.8,2050.2 L626.5,2052.3 L632.3,2053.6 L638.2,2054.2 L644.2,2053.9 L650.1,2052.8 L655.7,2050.9 L661.3,2048.6 L666.8,2046.3 L672.4,2044.1 L678.0,2041.9 L683.6,2039.7 L689.1,2037.3 L694.4,2034.5 L699.5,2031.4 L704.3,2027.8 L708.9,2024.0 L713.3,2019.9 L717.7,2015.7 L721.9,2011.5 L726.2,2007.2 L730.5,2003.1 L734.9,1999.0 L739.4,1995.0 L743.8,1990.9 L748.0,1986.7 L752.2,1982.4 L756.6,1978.3 L761.2,1974.5 L766.0,1970.8 L770.7,1967.1 L775.4,1963.4 L780.0,1959.5 L784.5,1955.5 L788.7,1951.2 L792.9,1947.0 L797.2,1942.8 L801.6,1938.7 L806.2,1934.8 L811.0,1931.2 L816.1,1928.0 L821.5,1925.7 L827.3,1924.5 L833.3,1924.3 L839.2,1924.8 L845.0,1926.3 L850.4,1928.9 L855.3,1932.3 L860.1,1935.9 L864.8,1939.6 L869.5,1943.4 L874.4,1946.7 L879.5,1949.6 L884.2,1953.3 L888.6,1957.4 L892.8,1961.7 L896.8,1966.2 L900.6,1970.8 L904.4,1975.4 L908.3,1980.0 L912.4,1984.4 L916.4,1988.9 L920.4,1993.3 L924.4,1997.8 L928.5,2002.3 L932.7,2006.5 L937.3,2010.4 L942.0,2014.1 L946.5,2018.1 L950.8,2022.3 L955.0,2026.6 L959.2,2030.8 L963.6,2034.9 L968.2,2038.8 L972.7,2042.7 L977.4,2046.5 L982.0,2050.3 L986.6,2054.2 L991.3,2058.0 L995.9,2061.8 L1000.7,2065.4 L1005.5,2069.0 L1010.4,2072.4 L1015.5,2075.7 L1020.6,2078.9 L1025.6,2082.1 L1030.7,2085.2 L1035.9,2088.4 L1041.0,2091.5 L1046.2,2094.4 L1051.5,2097.3 L1056.9,2100.0 L1062.2,2102.7 L1067.7,2105.2 L1073.2,2107.6 L1078.7,2109.9 L1084.3,2112.1 L1089.9,2114.3 L1095.5,2116.4 L1101.1,2118.6 L1106.8,2120.6 L1112.4,2122.6 L1118.1,2124.5 L1123.9,2126.3 L1129.6,2128.0 L1135.4,2129.7 L1141.1,2131.4 L1146.9,2133.2 L1152.6,2135.1 L1158.3,2137.0 L1163.9,2138.9 L1169.6,2140.8 L1175.3,2142.7 L1181.1,2144.5 L1186.8,2146.3 L1192.6,2148.0 L1198.3,2149.6 L1204.1,2151.1 L1210.0,2152.6 L1215.8,2154.0 L1221.6,2155.4 L1227.5,2156.7 L1233.4,2157.9 L1239.3,2159.0 L1245.2,2160.0 L1251.1,2161.0 L1257.0,2162.0 L1263.0,2162.9 L1268.9,2163.8 L1274.8,2164.7 L1280.8,2165.6 L1286.7,2166.5 L1292.7,2167.4 L1298.6,2168.3 L1304.5,2169.1 L1310.5,2169.9 L1316.4,2170.6 L1322.4,2171.2 L1328.4,2171.7 L1334.4,2172.3 L1340.3,2172.9 L1346.3,2173.5 L1352.2,2174.3 L1358.2,2175.2 L1364.1,2176.1 L1370.1,2177.0 L1376.0,2177.9 L1381.9,2178.8 L1387.9,2179.8 L1393.8,2180.6 L1399.7,2181.5 L1405.7,2182.3 L1411.6,2183.1 L1417.6,2183.8 L1423.6,2184.5 L1429.5,2185.1 L1435.5,2185.7 L1441.5,2186.3 L1447.5,2186.8 L1453.5,2187.3 L1459.4,2187.9 L1465.4,2188.4 L1471.4,2188.9 L1477.4,2189.3 L1483.4,2189.8 L1489.4,2190.3 L1495.3,2190.8 L1501.3,2191.3 L1507.3,2191.8 L1513.3,2192.3 L1519.3,2192.9 L1525.2,2193.5 L1531.2,2194.1 L1537.2,2194.6 L1543.2,2195.1 L1549.2,2195.4 L1555.2,2195.7 L1561.2,2196.0 L1567.2,2196.2 L1573.2,2196.5 L1579.2,2196.8 L1585.1,2197.1 L1591.1,2197.5 L1597.1,2197.9 L1603.1,2198.4 L1609.1,2198.8 L1615.1,2199.3 L1621.1,2199.8 L1627.1,2200.2 L1633.1,2200.7 L1639.0,2201.1 L1645.0,2201.6 L1651.0,2202.1 L1657.0,2202.5 L1663.0,2202.9 L1669.0,2203.4 L1675.0,2203.8 L1681.0,2204.1 L1687.0,2204.5 L1693.0,2204.8 L1699.0,2205.2 L1705.0,2205.5 L1710.9,2205.7 L1716.9,2206.0 L1722.9,2206.2 L1728.9,2206.5 L1734.9,2206.7 L1741.0,2206.8 L1747.0,2207.0 L1753.0,2207.1 L1759.0,2207.3 L1765.0,2207.4 L1771.0,2207.6 L1777.0,2207.7 L1783.0,2207.8 L1789.0,2208.0 L1795.0,2208.1 L1801.0,2208.3 L1807.0,2208.4 L1813.0,2208.5 L1819.0,2208.7 L1825.0,2208.8 L1831.0,2209.0 L1833.0,2209.0" stroke="#000000"/>
</g>
<g fill="#000">
<rect x="295.0" y="1715.5" width="1540.0" height="3"/>
<rect x="295.0" y="2297.5" width="1540.0" height="3"/>
<rect x="1832.0" y="1715.5" width="3" height="585.0"/>
</g>
<rect x="295" y="1715.5" width="3" height="585.0" fill="#000"/>
<g stroke="#000" stroke-width="2.6">
<line x1="552.7" y1="2299.0" x2="552.7" y2="2284.0"/>
<line x1="552.7" y1="1717.0" x2="552.7" y2="1732.0"/>
<line x1="808.8" y1="2299.0" x2="808.8" y2="2284.0"/>
<line x1="808.8" y1="1717.0" x2="808.8" y2="1732.0"/>
<line x1="1065.0" y1="2299.0" x2="1065.0" y2="2284.0"/>
<line x1="1065.0" y1="1717.0" x2="1065.0" y2="1732.0"/>
<line x1="1321.2" y1="2299.0" x2="1321.2" y2="2284.0"/>
<line x1="1321.2" y1="1717.0" x2="1321.2" y2="1732.0"/>
<line x1="1577.3" y1="2299.0" x2="1577.3" y2="2284.0"/>
<line x1="1577.3" y1="1717.0" x2="1577.3" y2="1732.0"/>
<line x1="296.5" y1="1862.5" x2="311.5" y2="1862.5"/>
<line x1="1833.5" y1="1862.5" x2="1818.5" y2="1862.5"/>
<line x1="296.5" y1="2008.0" x2="311.5" y2="2008.0"/>
<line x1="1833.5" y1="2008.0" x2="1818.5" y2="2008.0"/>
<line x1="296.5" y1="2153.5" x2="311.5" y2="2153.5"/>
<line x1="1833.5" y1="2153.5" x2="1818.5" y2="2153.5"/>
</g>
<g style="font-family:'Liberation Serif','Times New Roman',serif;font-size:66px" fill="#000">
<text x="296.5" y="2374.0" text-anchor="middle">200</text>
<text x="552.7" y="2374.0" text-anchor="middle">300</text>
<text x="808.8" y="2374.0" text-anchor="middle">400</text>
<text x="1065.0" y="2374.0" text-anchor="middle">500</text>
<text x="1321.2" y="2374.0" text-anchor="middle">600</text>
<text x="1577.3" y="2374.0" text-anchor="middle">700</text>
<text x="1833.5" y="2374.0" text-anchor="middle">800</text>
<text x="278.5" y="1741.0" text-anchor="end">3</text>
<text x="276.0" y="1886.5" text-anchor="end" letter-spacing="-2">2.5</text>
<text x="278.5" y="2032.0" text-anchor="end">2</text>
<text x="276.0" y="2177.5" text-anchor="end" letter-spacing="-2">1.5</text>
<text x="278.5" y="2323.0" text-anchor="end">1</text>
</g>
<text x="1065" y="2452.0" text-anchor="middle" style="font-family:'Liberation Serif','Times New Roman',serif;font-size:70px">Wavelength (nm)</text>
<text transform="translate(158,2011) rotate(-90)" text-anchor="middle" style="font-family:'Liberation Serif','Times New Roman',serif;font-size:72px">n</text>
<text x="330.5" y="1774.8" style="font-family:'Liberation Serif','Times New Roman',serif;font-size:60px;font-weight:bold" fill="#e2321e">(c)</text>
<line x1="1357.0" y1="1806.0" x2="1518.0" y2="1806.0" stroke="#006e28" stroke-width="5"/>
<text x="1533.0" y="1827.1" style="font-family:'Liberation Serif','Times New Roman',serif;font-size:66px" xml:space="preserve">20 mins</text>
<line x1="1357.0" y1="1894.2" x2="1518.0" y2="1894.2" stroke="#c03a26" stroke-width="5"/>
<text x="1533.0" y="1916.0" style="font-family:'Liberation Serif','Times New Roman',serif;font-size:66px" xml:space="preserve">15 mins</text>
<line x1="1357.0" y1="1982.3" x2="1518.0" y2="1982.3" stroke="#1f2a62" stroke-width="5"/>
<text x="1533.0" y="2003.2" style="font-family:'Liberation Serif','Times New Roman',serif;font-size:66px" xml:space="preserve">10 mins</text>
<line x1="1357.0" y1="2069.4" x2="1518.0" y2="2069.4" stroke="#000000" stroke-width="5"/>
<text x="1533.0" y="2091.3" style="font-family:'Liberation Serif','Times New Roman',serif;font-size:66px" xml:space="preserve"> 5 mins</text>
</svg></body></html>
